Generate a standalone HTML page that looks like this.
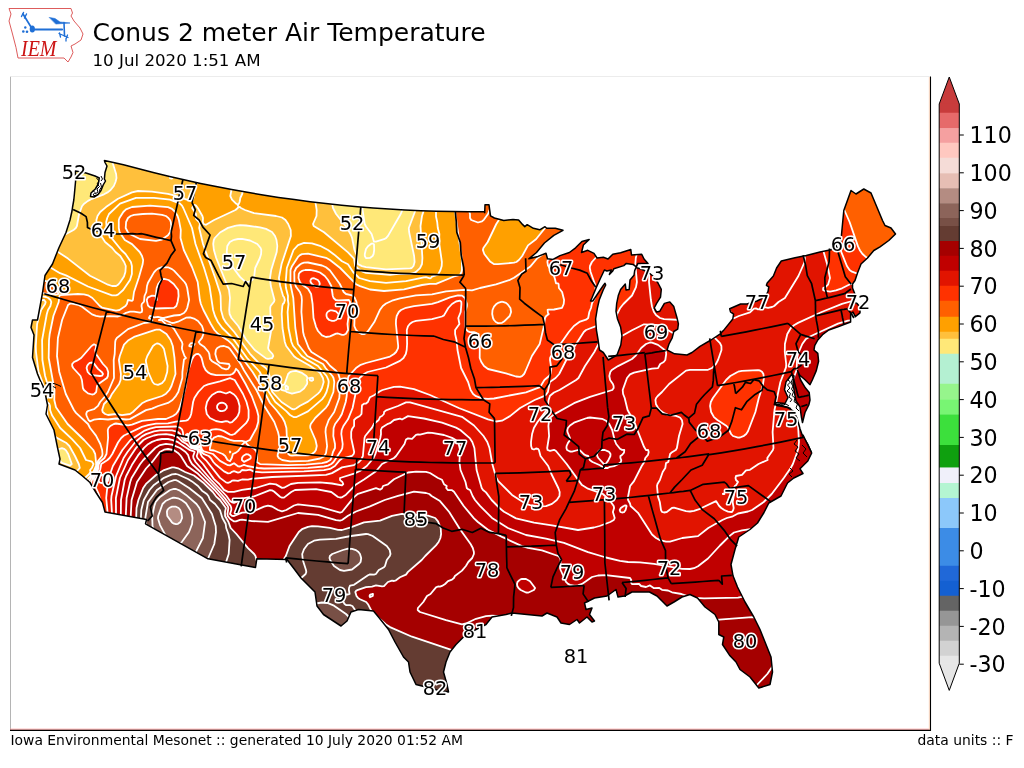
<!DOCTYPE html>
<html><head><meta charset="utf-8"><title>Conus 2 meter Air Temperature</title>
<style>
html,body{margin:0;padding:0;background:#fff;}
body{width:1024px;height:768px;position:relative;overflow:hidden;font-family:"DejaVu Sans","Liberation Sans",sans-serif;color:#000;}
</style></head><body>
<svg width="1024" height="768" viewBox="0 0 1024 768" style="position:absolute;left:0;top:0" font-family="DejaVu Sans, Liberation Sans, sans-serif">
<defs><clipPath id="us"><path d="M104.4,160.6L123.5,164.7L138.8,168.8L154.2,172.7L169.6,176.4L185.1,180L200.6,183.4L216.1,186.5L231.7,189.5L247.3,192.3L263,194.9L278.6,197.4L294.3,199.6L310.1,201.7L325.8,203.5L341.6,205.2L357.4,206.7L373.2,207.9L389,209L404.9,210L420.7,210.7L436.5,211.2L452.4,211.5L468.3,211.7L484.1,211.6L484.7,212.7L485,204.8L489,204.8L490.5,215.8L494.4,218L503.8,220.5L513,219.4L518.6,220L522.5,224.4L524.8,226.7L527.2,224.7L533.4,228.3L539.7,229.8L545,226.7L546.7,228.3L555.3,228.3L563,230.3L553.8,235.3L544.4,243L536.5,252.5L528.8,258.8L538,256.4L546,253.3L547.5,258.8L553,259.5L560,255.6L569.4,252.5L575.6,247.8L581.9,241.5L589.2,239.5L583.4,245L581.5,252.5L587.8,250.3L594,253.4L597,258L603.4,257.3L608,259L612.8,254.2L620.6,252.7L630.8,249.5L631.5,255L641.7,254.2L644,259L648,263.6L637.8,263.6L636.3,266.9L633,264.4L626.3,263.4L623.8,265.6L613.8,268.8L612.5,271.3L609.4,274.4L611.3,270L606.9,271L604.4,270L600.6,278L596.3,287.5L594,293L591.9,298L590.5,301L592.8,301L596.2,296L600.2,290L603.6,285L605,283.3L605.7,285L603.2,290L600.8,296L599.2,300L597.4,308L595.6,319L596.4,330L598,339.4L599.5,350L603.3,352.5L608.3,360L617,355L620.8,345L622,336L620.6,327L617.5,319L616,311.3L616.7,303.4L618.3,295.6L620.6,289.4L625.3,284L626,290L629.2,289.4L630,280L634,275.3L634.7,270.6L636,267.5L641,269L648,272L654,277L658,283L661.3,289.4L660.5,297.2L656.6,303.4L654.2,308L656.6,312L659.7,311.3L664.4,303.4L669.8,301.9L673.8,306.6L676.9,317.5L678.4,323.8L677.7,329.2L673.8,331.5L672.2,337.8L669,344L667,350L674.5,353.8L687,355L692,352.5L700,346.3L711,340L720.3,333.8L723.4,330.6L732.8,319L733.6,314.2L730.5,311.9L729.7,308.8L740.6,304L746.9,304L757,301L765,297L768,291.6L768.8,286.9L766.4,285.3L767.2,283L773.4,276L776.6,268L781.3,261L795,257.8L806.3,255.6L820,252L831,249.8L836,247L840,250.5L843.8,210.5L851,190.5L856,194L863.8,189L871,193L882.5,220.5L885,225.5L891,228L895.5,234L888.8,240.5L880,246.8L873.8,250.5L867.5,258L861,264L857.5,273L855,280.5L852.5,284L852.5,288L854.5,293L856,298L853,302L857,303.4L860,307L860,312.8L855.3,316.7L853,312L850.6,314L850.6,322L838,326.9L828.8,330L822.5,334.7L817.8,340L814.7,345.6L814,350L817.8,353.4L818.6,361.3L816.3,370.6L812.3,380L810,384.7L805.3,380L799.8,375.3L797.5,370.6L800.6,380L805.3,387.8L809.2,392.5L810,400L808.8,405L805,412.5L802.5,422.5L801.4,417L800,406.9L796,401L794.3,391.3L793,383.4L794,376L791.4,374.8L786,381.9L784.5,389.7L788,397.5L785,403.5L775,402.5L776.6,405.5L787.5,407.2L793.8,411.6L797,418L800,428.8L803,437.3L803,435L811.7,453L807.8,461L800,468.8L803,473.5L793.8,478L787.5,483L781,496L768.8,503L764,512.5L757.5,523L750,529.5L738.8,537L735,549.5L731,564.5L733,575.8L737.5,587L745,602L753.8,617L760,629.5L766,644.5L771,657L772.5,672L770,684.5L758.8,688L756,684.5L750,677L740,669.5L736,662L730,655.8L722.5,644.5L723.8,637L718.8,634.5L718.8,622L715,614.5L705,607L697.5,598L690,594.5L682,597L674,602L667,606L657,596L649.5,592L632,592L624.5,596L618,597L616,589.5L607,596L594.5,598L584.5,603L586,609.5L592,608L589.5,614.5L594.5,621L592,622L587,617L579.5,623L577,619.5L569.5,624.5L561,623L557,617L547,613L542,616L527,614.5L512,613L506,614.5L492,617L486,624.5L475,630L463.5,637L456,644.5L450,652L446,662L443.5,672L447,684.5L448.5,692L437,690L426,687L416,684.5L410,672L408.5,662L403.5,657L395,642L388.5,629.5L378.5,617L373.5,611L358.5,609.5L351,612L347,621L341,626L323.5,614.5L317,606L315,592L301,578L293.5,568L287,559.5L256.8,558.8L255.5,567.5L241.8,565L208,558.8L145.5,523.8L146.5,519.5L105,512L102.5,502.5L96,492.5L90,482.5L82.5,476L75,470L59,464L60,459L57.5,447.5L54,430L46,414L47.5,405L45,392.5L43,386L40,380L37.5,374L32.5,357.5L34,335L31,327.5L32.5,320L37.5,320L42.5,293L45,275.5L52.5,264L58.8,248L66,232.5L70,220L72,211L72.5,207.5L73.8,200L74.4,194L75,187.5L75.6,181L75.5,171L86,173L95,176L99.3,178L98.3,184L95.3,189L91,193L90.5,196.5L94,197L98,194.5L101,190.5L103.2,185L105.5,181L104.4,179L105,172.5L107,166L105,162.5Z"/></clipPath></defs>
<g clip-path="url(#us)">
<path fill="#b4f0d2" stroke="#b4f0d2" stroke-width="0.6" fill-rule="evenodd" d="M16,370L16,369.4L29.9,390L32,395.6L35.3,408L34.1,416L24.5,450L21.1,466L19.7,480L18.3,514L16,531.9Z"/>
<path fill="#ffe878" stroke="#ffe878" stroke-width="0.6" fill-rule="evenodd" d="M16,140L121,140L115.7,150L113.1,160L113.4,166L116.4,176L116.2,180L114.7,184L112.4,188L108,192.1L104,194.3L92,198.8L84,203.8L82,206.3L79.1,214L77.3,224L76,227.7L74,229.7L66.1,234L62,234.2L44,229.9L34,228.7L24,229.8L16,232.8ZM339.6,140L400.9,140L406,150.1L411.3,164L414.9,178L416.6,190L417,200L416.3,208L408.8,228L409.1,232L414.6,260L414.3,264L412,267.9L410,268.4L386,269.4L366,267.1L362,266.1L357.9,264L357.3,262L357,256L354.5,250L352.1,238L350.5,234L346,226.5L336,213.8L333.8,210L332.5,206L332.3,196L334.5,170L336.6,154ZM169.9,176L172,175.6L172.4,178L172,178.5L170,178.2ZM234.1,226L240,225.2L244,225.3L260,227.3L266,228.9L272,232L275,236L276.5,240L277.3,246L276.7,252L271.2,270L270,278L270.8,286L274.5,300L274,301.8L270.6,306L270.2,308L270.9,332L268.1,348L268.8,350L272.5,354L273.3,356L272,358.2L268,358.8L266,358.4L254.7,350L246,339.5L238.2,326L231.5,318L229.6,314L229.2,310L230,298L229,290L216.2,258L213.9,250L213.2,244L213.8,240L214.8,238L218.2,234L226,228.8ZM16,310L16,308.3L19.4,312L21.5,316L23,328L25.4,340L26.2,354L27,358L33.4,374L40,386.5L41.4,392L40.9,396L41.1,400L44.9,406L43.7,418L43.8,432L44.4,438L46.9,452L45.4,460L44.8,466L46.5,486L46.8,498L46.2,512L44.3,526L41.8,538L38.1,552L16,626L16,531.9L18.4,512L20.2,474L23,456L34,416.4L35.3,408L32,395.6L29.9,390L16,369.4ZM290.4,372L294,370.9L298,371.2L304.1,374L306.4,376L307.5,378L306.8,380L307.3,382L307,384L304.5,388L300,391.6L294,393.4L290,393.4L286.6,392L286,391.1L282,390.2L280,388L281,386L282,385.2L284,384.7L284.6,384L288,374.2ZM286,385.5L285.3,386L286,389.2L288,389.3L288,386.9ZM309.2,378L312,377.6L313,378L313.2,380L312,380.9L310,380.3ZM57,450L60,448.4L62,448.2L64,448.8L66,450.4L68.2,454L71.8,464L70,465.6L62,462.9L60,461.4L55.3,454L55.4,452Z"/>
<path fill="#ffc03c" stroke="#ffc03c" stroke-width="0.6" fill-rule="evenodd" d="M119.7,142L121,140L253.6,140L244,145.9L230,157.4L214,164.9L208,168.9L204,172.6L199.7,178L195.2,186L193.9,190L193.5,198L192,201.3L174,195.4L168,193.9L152,191.6L138,191L132,192.4L118,198.7L106,207.1L100.2,212L97.5,216L96.4,220L96.8,226L98.6,232L105.1,242L112,247.7L115.5,252L120.3,256L124.1,262L125.8,266L125.4,272L124,276.4L120,282.5L118,284.8L116.1,286L112,286L108,284.7L90,275.8L68,258.6L58,251.9L52,249.6L40,247.5L34,247.7L30,248.4L26,249.6L22,251.7L16,257L16,232.8L24,229.8L34,228.7L44,229.9L62,234.2L66.1,234L74,229.7L76,227.7L77.3,224L79.1,214L82,206.3L84,203.8L92,198.8L106,193.3L110,190.5L112.4,188L114.7,184L116.5,178L116.1,174L113,164L113.4,158L115.7,150ZM170,175.9L169.9,178L172,178.5L172.4,178L172,175.6ZM283.3,140L339.6,140L336.3,156L334,174.5L332.2,198L332.2,204L333,208L336.1,214L346,226.5L350.5,234L352.1,238L354.5,250L357,256L357.3,262L358,264.1L362,266.1L366,267.1L386,269.4L410,268.4L411.7,268L413.5,266L414.6,262L414.1,256L409.1,232L408.8,228L416.3,208L417,198L416.5,188L414.5,176L411.3,164L406,150.1L400.9,140L429.7,140L429.7,170L428.9,188L426.6,202L422,216L420.9,222L420.5,230L422.3,262L421.3,266L418.3,270L415.9,272L412,273.6L396,274L390,274.8L384,274.6L366,272.9L362,271.3L356,267.1L354.6,264L354.5,260L352,256.2L346,250.5L324,232.2L313.7,226L313,224L316.5,216L316.7,210L313.5,190L309.1,174L304,161.9L298,152.4L292,145.9L288,142.7ZM233.9,184L236,182.4L238,182.3L240,183.4L242.5,188L242.7,192L242.2,194L240.3,198L239.6,202L238,205.5L237.1,204L236,203.6L232,199.6L230.3,196L231.8,188ZM193.1,206L194,204.6L196,205.6L197.8,208L202.4,216L203,218L202.8,222L203.6,224L206,224.8L214.1,220L235.5,210L237.8,208L238,207.1L240,207L240.9,208L245,210L254,213.2L276,216L282,217.5L285.5,220L288.2,224L290.7,230L290.9,236L281.6,264L278.9,278L280.2,286L283.1,296L284,297L284.9,300L284,303L282.9,304L282.3,306L281.7,314L282.5,328L284.8,342L286.2,346L294,356.2L296.3,358L310,365.7L320,372.7L322.9,378L323.7,382L321.9,388L320,391.5L318,393.6L308,401.6L300,405.7L296,408.5L294,409.3L292,409L281.5,402L272.3,392L270.8,388L269.7,376L267.4,370L265.7,368L258,362.2L250,353.8L234.2,332L226,322.7L223.2,318L221,310L220.6,296L219.8,292L203,244L199.2,228L199.9,224L199.2,222L195.7,218L196,214L192.2,208ZM236,225.6L228,227.9L220,232.5L214.8,238L213.8,240L213.2,244L213.9,250L216.2,258L229,290L230,298L229.2,310L229.6,314L231.5,318L238.2,326L246,339.5L254.7,350L266,358.4L268,358.8L272,358.2L273.3,356L272.5,354L268.8,350L268.1,348L270.9,332L270.2,308L270.6,306L274,301.8L274.5,300L270.8,286L270,278L271.2,270L276.7,252L277.3,246L276.5,240L275,236L272,232L266,228.9L260,227.3L246,225.5L240,225.2ZM292,371.4L290,372.2L288.1,374L284.6,384L284,384.7L282,385.2L281,386L280,388L282,390.2L286,391.1L286.6,392L292,393.7L300,391.6L304,388.5L307,384L307.3,382L306.8,380L307.5,378L306.4,376L302,372.9L296,370.8ZM310,377.8L309.2,378L310,380.3L312,380.9L313.2,380L313,378L312,377.6ZM16,292L16,290.6L21.2,296L28,299.7L32,300.7L36,301L44,299.9L45.7,302L45.1,304L41.1,310L37.1,324L35.8,346L36,352L38.6,372L45.4,390L45.4,392L43.6,398L43.7,400L44.6,402L46.8,404L47.5,406L47.2,412L47.6,416L50.7,428L52.8,434L56,437.4L66,442.7L69.4,446L75,456L78.8,464L79.8,468L76.1,472L74,475.3L66.9,484L63.2,492L61.4,500L58,522L55.4,534L31.2,616L23.5,646L16,678.5L16,626L39.3,548L42.8,534L45.3,520L46.5,508L46.8,494L44.8,466L45.4,460L46.9,452L44.4,438L43.8,432L43.7,418L44.9,406L41.1,400L40.9,396L41.4,392L40,386.5L33.4,374L27,358L26.2,354L25.4,340L23,328L21.9,318L20.6,314L16,308.3ZM58,449.3L55.4,452L55.3,454L58.9,460L62,462.9L70,465.6L71.8,464L68.2,454L66,450.4L64,448.8L62,448.2ZM285.3,386L286,385.5L288,386.9L288,389.3L286,389.2Z"/>
<path fill="#ffa000" stroke="#ffa000" stroke-width="0.6" fill-rule="evenodd" d="M249.7,142L253.6,140L283.3,140L288,142.7L292,145.9L298,152.4L304,161.9L308,170.9L311.6,182L314.7,196L316.9,212L316.5,216L313,224L313.7,226L324,232.2L348,252.4L354,258.7L355.2,266L358,268.7L362,271.3L366,272.9L390,274.8L396,274L410,273.8L414,273L416,271.9L420,268.2L422,264L422.4,258L420.5,226L422,216L426.6,202L428.7,190L429.7,172L429.7,140L499.6,140L492,144.2L484,149.6L478,154.6L472,160.7L466,168.5L462,175.1L458.7,182L456,189.7L454.3,198L454.2,206L462,260L461.9,270L461.5,272L460,274.8L454,276.5L436,283.8L430,283.8L422,285L404,289.3L384,291L370,289.5L360,286.1L356,284.2L340.2,268L330,260L326,257.8L308,253.7L302,254.1L300,255.1L298,256.9L292,266.2L290.5,270L290.4,284L293.3,298L295.3,328L297.9,344L307.3,356L323,364L325.6,368L332.4,376L333.5,378L334.3,382L333.4,392L328,404.8L326,407.6L315.2,418L310.8,424L310.2,426L310.3,428L315.5,440L316.8,446L315.9,450L314.6,452L312,454L308,455.4L298,455.2L292,455.6L290,455.3L288.3,454L288.6,448L286.9,438L286.4,428L284.6,422L282.5,418L276.3,410L270,403L261.2,386L252.6,372L232,344.1L228,340.4L218,333.8L214.4,330L210.8,324L203.4,310L200.9,304L199.9,300L197.7,282L192,267L183.8,250L180.5,238L180.8,230L178.9,220L177.6,216L175.2,212L172,208.8L168,207.1L150,205.6L132,207L128,208.2L124,211.2L120.6,216L118.8,220L118.8,228L119.5,232L124.8,240L132,244.1L139.7,252L142,256L143.2,260L142.7,264L138.7,278L134,292L132.9,300L132,300.8L128,300L126.9,304L125.5,306L119.5,310L116,310.6L102,307.6L99.8,306L92.4,298L88,295.3L84,294.4L78,294L60,295.2L59.4,296L58.7,302L54.6,312L52.9,318L49.2,338L48.6,356L54.5,390L54.3,400L55.6,406L56.3,408L67.6,424L84.1,440L93.3,450L95.2,454L96.2,464L95.9,466L92.4,474L88.6,478L84.8,484L81.8,492L80.8,500L80.3,516L78.9,526L76,537.3L63.1,580L54.6,614L45.9,658L38.4,706L16,706L16,678.5L17,674L24.5,642L31.8,614L55.4,534L58,522L62.7,494L64.7,488L66.9,484L74,475.3L76.1,472L79.8,468L78.8,464L75,456L69.4,446L66,442.7L56.9,438L54.2,436L52.8,434L51.3,430L47.6,416L47.2,412L47.5,406L46.8,404L44.6,402L43.7,400L43.6,398L45.4,392L45.4,390L38.6,372L35.9,350L37.1,324L41.1,310L45.1,304L45.7,302L44,299.9L36,301L32,300.7L28,299.7L21.2,296L16,290.6L16,257L22,251.7L26,249.6L30,248.4L34,247.7L40,247.5L52,249.6L58,251.9L68,258.6L90,275.8L108,284.7L112,286L116.1,286L118,284.8L120,282.5L124,276.4L125.4,272L125.8,266L124.1,262L120.3,256L115.5,252L112,247.7L105.1,242L98.6,232L96.8,226L96.4,220L97.5,216L100.2,212L106,207.1L118,198.7L132,192.4L138,191L152,191.6L168,193.9L174,195.4L192,201.3L193.5,198L193.9,190L195.2,186L199.7,178L204,172.6L208,168.9L214,164.9L230,157.4L243.9,146ZM38,281.8L37,284L37,286L38.8,290L40.9,292L44,293.4L52,294.5L56,294.7L58.6,294L56.8,290L55.1,288L48,282.2L44,280.3L42,280L40,280.4ZM194,204.6L192.2,208L196,214L196,218.8L199.2,222L199.9,224L199.2,228L203,244L215.2,278L220,292.8L220.6,296L221,310L223.2,318L226,322.7L234.2,332L250,353.8L258,362.2L265.7,368L267.4,370L269.7,376L270.8,388L272.3,392L281.5,402L292,409L294,409.3L296,408.5L300,405.7L308,401.6L318,393.6L320,391.5L321.9,388L323.7,382L322.9,378L320,372.7L310,365.7L296.3,358L294,356.2L286.2,346L284.8,342L282.5,328L281.7,314L282.3,306L282.9,304L284,303L284.9,300L284,297L283.1,296L280.2,286L278.9,278L281.6,264L290.9,236L290.7,230L288.2,224L285.5,220L282,217.5L276,216L254,213.2L245,210L240.9,208L240,207L238,207.1L237.8,208L235.5,210L214.1,220L206,224.8L203.6,224L202.8,222L203,218L202.4,216L197.8,208L196,205.6ZM234,183.8L231.8,188L230.3,196L232,199.6L236,203.6L237.1,204L238,205.5L239.6,202L240.3,198L242.2,194L242.7,192L242.5,188L240,183.4L238,182.3L236,182.4ZM530.8,190L536,188.9L540,189.6L544,192L548,197.2L550,202.2L551.1,210L550.3,218L548.3,224L536,239.3L528,245.4L522.2,256L518.9,260L516.4,262L514,262.7L498,264.2L493.8,264L490,261.4L484.3,254L482.9,250L483.4,248L487.7,242L496.3,224L500,218.3L520,197.5L526,192.6ZM154.6,330L158,329.4L160,329.7L166,333.6L169.5,338L172.3,344L174.5,358L175.5,374L174.5,378L170,389.1L167.9,392L164,395L146,401.2L142,403.3L132.9,412L130,414L122,415.1L116,414L108,415L105.1,414L102.7,412L102.2,410L104,404L109.9,398L112,393.9L119.1,384L120.6,380L120.9,374L118.9,360L119.8,356L124,344.6L128,340.6L134,336.9Z"/>
<path fill="#ff6000" stroke="#ff6000" stroke-width="0.6" fill-rule="evenodd" d="M495.8,142L499.6,140L643.8,140L634.1,152L626.4,164L619,178L603.8,210L599.1,218L593.5,226L582.6,238L568,250.6L564,252.9L556.3,256L554,257.7L547.8,260L547.4,262L548,265.6L550,268.7L551.5,270L554.7,278L556,283.3L558,283.3L558.6,284L558.9,288L562.1,292L564.1,300L564,302.8L562,307.8L554,309.5L548,309.6L547.6,310L548,313.1L548.8,314L546,316.2L545,318L543.5,328L539.7,344L530.9,358L524.1,374L522,376.1L520,376.9L518,377L506,373.3L488,369L484,366L481.3,362L479.7,358L479.8,342L478.6,336L476,332.9L474,332.2L470,332.1L468,331.3L466,329.2L465.5,328L465.3,312L466.9,306L466.9,304L465,298L462.8,296L460,295.3L456,295.6L450,297.3L434,303.4L428,304.6L412,306.5L405.5,308L401,310L398.8,312L397.5,314L396.2,318L395.9,324L398.2,346L398,348.4L396.1,352L394,354L390,356.6L366,363L360,365.2L356,368.1L348.7,376L348,378L346.7,396L345.7,402L341.9,414L339.6,418L335.1,424L333.6,428L333.3,436L335,444L335,448L333,452L331.4,458L330.3,460L328,461.5L324,462.8L308,464.6L288,465.2L262,464.2L259.7,464L256.8,462L257.2,454L256,450.8L254,448.7L248.9,446L246.8,444L246,442.3L244,442.9L242,445L240.5,448L238,451.1L236,452.6L232.9,454L231.8,458L230,461.2L227.5,460L225.2,456L222.7,454L214,450.5L209.9,450L209.9,448L212,440L214,437.7L218,436L222,436.5L230,439.8L234,440.8L242,440.8L246,441.8L249.9,440L256.5,428L258.2,422L258.4,416L256.9,410L251.7,396L242,377.7L238,370.8L236,368.8L234.6,372L232.5,374L230,374.9L218,375.3L212,374.4L208,372.4L205.6,370L203.6,366L201.6,358L200,355.2L198,353.8L196,354.2L193.8,356L192,359.3L187.8,372L185.3,388L183.3,396L179.6,408L178,411.4L176,414L173,416L166,419L158,419L142,420.9L130,425.1L126,425.3L120,423.8L116,423.5L113.9,424L110.3,426L108.5,428L107.8,430L108.1,438L106.5,454L104.4,458L99.8,462L98.8,464L97.9,470L96.8,472L93.2,476L91.4,482L91.5,490L96.2,512L96.3,520L94,531.4L83,574L76.4,608L70.6,652L65.8,706L38.4,706L45.9,658L54.6,614L63.1,580L76,537.3L78.9,526L80.3,516L80.8,500L81.8,492L84.8,484L88.6,478L92.4,474L95.9,466L96.2,464L95.2,454L93.3,450L84.1,440L67.6,424L56,407.3L54.3,400L54.5,390L48.7,358L49,340L49.7,334L53.4,316L58.7,302L59.4,296L60,295.2L78,294L84,294.4L88,295.3L92.4,298L99.8,306L102,307.6L116,310.6L119.5,310L125.5,306L126.9,304L128,300L132,300.8L132.9,300L134,292L138.7,278L142.7,264L143.2,260L142,256L139.7,252L132,244.1L124.8,240L119.5,232L118.8,228L118.8,220L119.5,218L123.3,212L126,209.4L132,207L150,205.6L168,207.1L172,208.8L175.2,212L177.6,216L178.9,220L180.8,230L180.5,238L183.8,250L192,267L197.7,282L199.9,300L200.9,304L203.4,310L210.8,324L214.4,330L218,333.8L228,340.4L232,344.1L252.6,372L261.2,386L270,403L276.3,410L282.5,418L284.6,422L286.4,428L286.9,438L288.6,448L288.3,454L290,455.3L292,455.6L298,455.2L308,455.4L312,454L314.6,452L315.9,450L316.8,446L315.5,440L310.3,428L310.2,426L310.8,424L315.2,418L326,407.6L328,404.8L333.4,392L334.3,382L333.5,378L332.4,376L325.6,368L323,364L307.3,356L297.9,344L295.3,328L293.3,298L290.4,284L290.5,270L292,266.2L298,256.9L300,255.1L302,254.1L308,253.7L326,257.8L330,260L340.2,268L356,284.2L360,286.1L370,289.5L384,291L404,289.3L422,285L430,283.8L436,283.8L454,276.5L460,274.8L461.5,272L461.9,270L462,260L454.2,206L454.3,198L455.9,190L458,183.7L462,175.1L470,163.1L476,156.5L482,151.2L488,146.8ZM532,189.5L528,191.3L522,195.7L500,218.3L496.3,224L487.7,242L483.4,248L482.9,250L484.3,254L490,261.4L493.8,264L498,264.2L514,262.7L516.4,262L518.9,260L522.2,256L528,245.4L536,239.3L548.3,224L550.3,218L551.1,210L550.4,204L548.4,198L546,194.1L542,190.5L538,189ZM230,451.5L229.3,452L230,452.5L230.4,452ZM92,345.4L81.1,358L78,360.1L74,362L72.2,364L72.2,366L73.2,368L80.5,376L81.9,380L82.9,388L83.9,390L88,393.4L92,394.5L94,394.1L96.2,392L97,386L98.4,384L106.9,378L107.9,376L108.2,372L106.8,368L103,364L96,354L95.2,350L96,347.7L96,345.3L94,344.3ZM162,279.4L158.2,284L156.7,288L156,294L156,296L156.9,298L156.8,300L155.7,300L155.9,296L152,295.6L150,296.1L148,297.3L146.7,300L147.4,304L148,305.5L150,307.3L154,308.3L174,307.9L176.3,306L177.6,302L178.6,296L178.2,290L174,284.3L170,280.9L166,279L164,278.8ZM306,269.8L302,270.9L300,272.3L298.8,274L298.5,278L300,282.3L302,284.5L308,288.7L311.1,294L312.6,304L313.5,318L316,326.8L318,331L322,335.4L326,337L330,336.4L336,333.6L338,333.5L342,334.8L344,334.8L346,333.7L348.1,330L347.5,324L350,301.8L348.9,300L348,299.7L340,300.3L335.7,300L333.6,298L332.8,296L331.3,286L328,280L324.8,276L322,273.7L318,271.7L312,270.1ZM156,329.6L134,336.9L128,340.6L124,344.6L119.8,356L118.9,360L120.9,374L120.6,380L119.1,384L112,393.9L109.9,398L104,404L102.2,410L102.7,412L105.1,414L108,415L116,414L122,415.1L130,414L132.9,412L142,403.3L146,401.2L162.1,396L166,393.7L169.4,390L171.5,386L175.5,374L174.5,358L172.8,346L170.6,340L166.5,334L160,329.7ZM802.2,140L914,140L914,257.7L896,261.2L882,261.6L876,260.8L870,259.2L866,257.1L862.5,254L860,250.5L858,246.4L849.6,222L835.5,190L828.6,176L822.8,166L816,156L809.7,148ZM37.9,282L40,280.4L42,280L46,281.1L50,283.7L55.1,288L56.8,290L58.6,294L56,294.7L52,294.5L44,293.4L40.9,292L37.6,288L37,284ZM195.4,446L196,444.8L197,446Z"/>
<path fill="#ff3200" stroke="#ff3200" stroke-width="0.6" fill-rule="evenodd" d="M643.8,140L802.2,140L809.7,148L816,156L822.8,166L828.6,176L835.5,190L849.6,222L858,246.4L860,250.5L862.5,254L866,257.1L870,259.2L876,260.8L882,261.6L896,261.2L914,257.7L914,296.5L890,292.4L854,283.6L850,284.2L842,288.3L836,290.4L830,291.6L824,290.6L823.1,290L823.2,288L826,286.6L828,284.7L830,278L827.1,264L823.1,250L818.7,240L812,228.7L804,217.6L794,206.2L784,196.9L774,189.3L764,183.4L754,178.9L744,175.8L734,174.1L722,173.7L712,174.8L704,176.7L696,179.5L688,183.4L680,188.3L672,194.6L664.2,202L658,209.1L652,217.4L646,227.5L642.1,236L639.3,244L635.8,258L635.3,264L636.9,282L636,287.2L632,295.5L623.4,304L620,308.3L617.1,314L616.6,318L615.6,320L612,321.7L600,324.6L586,330L583.8,332L574,347.3L566.3,360L559.2,374L555.6,378L549.8,382L547.9,392L546,394.8L544,396.1L534.6,400L520.1,408L510,416.1L502,420.7L496,421.5L488,419.4L458.8,408L430,395L414,389.1L400,386.7L394,386.8L382.5,390L380,391.2L374,395.3L370,397.2L367.9,402L366,403.5L364,403.7L362,405.2L361.5,414L359.8,416L356,418.1L354.1,420L354.1,426L352,429L351.2,432L351.2,438L354.2,452L353.7,454L352,455.8L342,458.5L340,459.9L334.9,466L330,468.9L324,470.2L304,471.4L262,472.4L254,471.6L250,469.6L246,470.4L242,470L240,472.2L238,472.6L234,471.2L232,471.8L230,473.2L228,473.4L224,471.4L216,464.8L213.3,462L210.8,458L208.7,456L204,454.2L202,452.5L200,447.7L194,447L192.7,446L192.8,444L196,440L196.6,438L196,435.3L194,434.4L192,434.9L188,438.6L186,438.9L184.6,438L183.3,436L182.9,432L182,429.4L180,427.6L176,426.5L156,427.2L150,428.6L144,430.9L130.5,440L122.4,450L112.9,466L110,474.2L108.4,476L108,480.8L106.8,482L107.2,488L106.2,498L108.1,518L98.8,574L96.6,594L95.1,614L93.7,654L93.5,706L65.8,706L70.6,652L76.4,608L83,574L94,531.4L96.3,520L96.2,512L91.5,490L91.4,482L93.2,476L96.8,472L97.9,470L98.8,464L99.8,462L104.4,458L106.5,454L108.1,438L107.8,430L108.5,428L110.3,426L113.9,424L116,423.5L128,425.4L132,424.6L142,420.9L158,419L166,419L173,416L176,414L178,411.4L179.6,408L183.3,396L185.3,388L187.8,372L192,359.3L194,355.7L196,354.2L198,353.8L200,355.2L201.6,358L203.6,366L205.6,370L208,372.4L210.8,374L216,375.2L230,374.9L232.5,374L234.6,372L236,368.8L238,370.8L245.6,384L252,396.7L256.9,410L258.4,416L258.2,422L256.5,428L249.9,440L246,441.8L242,440.8L234,440.8L230,439.8L222,436.5L218,436L214,437.7L212,440L209.9,448L209.9,450L214,450.5L222.7,454L225.2,456L227.5,460L230,461.2L231.8,458L232.9,454L236,452.6L238,451.1L240.5,448L242,445L244,442.9L246,442.3L246.8,444L248.9,446L254,448.7L256,450.8L257.2,454L256.8,462L260,464.1L288,465.2L306,464.7L322,463.1L326.9,462L330.3,460L331.4,458L333,452L335,448L335,444L333.3,436L333.6,428L335.1,424L339.6,418L341.9,414L345.7,402L346.7,396L348,378L348.7,376L356,368.1L360,365.2L366,363L390,356.6L394,354L396.1,352L398,348.4L398.2,346L395.9,324L396,320L396.7,316L398.8,312L401,310L406,307.8L414,306.2L432,303.9L438,302.1L450,297.3L458,295.3L462,295.6L465,298L466.9,304L466.9,306L465.3,312L465.5,328L466,329.2L468,331.3L470,332.1L474,332.2L476,332.9L478.6,336L479.8,342L479.7,358L481.3,362L484,366L488,369L506,373.3L516,376.5L520,376.9L522,376.1L524.1,374L525.1,372L531.9,356L539.7,344L543.5,328L545,318L546,316.2L548.8,314L548,313.1L547.6,310L548,309.6L554,309.5L562,307.8L563.7,304L564.1,300L562.1,292L558.9,288L558.6,284L558,283.3L556,283.3L554.7,278L551.5,270L550,268.7L548,265.6L547.4,262L547.8,260L554,257.7L556.3,256L564,252.9L568,250.6L582.6,238L593.5,226L599.1,218L603.8,210L619,178L626.4,164L634.1,152ZM196,444.8L195.4,446L197,446ZM100,476L97.7,478L98,480.7L100,482.6L102,483L105.3,482L107.4,478L107,476L104,474.4ZM218,391.7L216,392.3L212,395.1L209.4,398L207,402L205.7,408L206.8,414L209.9,418L216,421L220,421.9L222,422L226,421.2L228,421.4L230,422.7L232,422.2L236.2,418L238,415.4L239.3,412L239.6,406L238,400L236,396.6L234,394.5L230,391.9L226,393.5L222,392.1ZM304.9,270L310,269.8L316,271.1L320,272.5L324.8,276L328,280L331.3,286L332.8,296L333.6,298L335.7,300L338,300.4L348.9,300L350.1,302L348.7,310L348.6,316L347.5,324L348.1,330L346,333.7L344,334.8L342,334.8L338,333.5L336,333.6L330,336.4L326,337L322,335.4L318,331L316,326.8L313.5,318L312.6,304L311.1,294L308,288.7L302,284.5L300,282.3L298.5,278L298.8,274L300,272.3L302,270.9ZM161.3,280L164,278.8L168.6,280L173.7,284L178.2,290L178.6,296L177.6,302L176.3,306L174,307.9L156,308.5L150,307.3L148,305.5L146.7,300L148,297.3L152,295.6L155.9,296L155.7,300L156.8,300L156.9,298L156,296L156,294L156.7,288L158.2,284ZM91.5,346L94,344.3L96,345.3L96,347.7L95.2,350L96,354L103,364L106.8,368L108.2,372L107.9,376L106.9,378L98.4,384L97,386L96.2,392L94,394.1L92,394.5L88,393.4L83.9,390L82.9,388L81.9,380L80.5,376L73.2,368L72.2,366L72.2,364L74,362L78,360.1L81.1,358ZM737.4,372L742,370.8L758,370.1L760,370.5L762,371.7L763.4,374L763.9,378L762.7,386L758.8,398L755.4,412L748,431.2L746.2,434L744,435.8L740,437.5L738,437.7L733,436L731.1,434L728.3,428L726.6,426L717.4,420L714,417.1L711.1,412L710.1,406L710.8,402L712.9,398L726,380.1L730,376.2ZM229.3,452L230,451.5L230.4,452L230,452.5Z"/>
<path fill="#e11400" stroke="#e11400" stroke-width="0.6" fill-rule="evenodd" d="M717.8,174L728,173.6L740,175L750,177.5L760,181.4L770,186.8L780,193.7L790,202.3L798,210.5L806,220.2L814,231.8L819.7,242L823.8,252L827.6,266L830,278L828,284.7L826,286.6L823.2,288L823.1,290L824,290.6L830,291.6L836,290.4L842,288.3L850,284.2L854,283.6L890,292.4L914,296.5L914,337.3L874,323.1L864,320.7L854,320L844,321.6L834,325.3L808,337.6L804,341.2L800.4,348L798,354L797.1,358L796.6,370L792.2,382L792,384L794.5,396L798.6,432L799,442L798,450L792.9,464L790.7,468L773.4,492L763.7,502L752,510.1L748,511.5L738,513.5L732,516.7L726.8,518L722.4,520L708.3,528L698,536.1L682.3,538L672,541.2L668,541.8L664,541.4L660,540.1L653.5,536L650,532L645.4,524L638,512.8L630.6,506L630,503.5L628.1,500L627.8,498L630.1,486L634,481.1L641.7,466L644.3,462L645.3,458L648,454.9L648.7,452L648.1,450L646,450.1L644,446.8L634.2,422L627.6,410L624.7,398L623.1,394L622.7,390L627,378L630,374.4L634,372.6L652,368.6L658,368.1L660.2,364L663.7,362L665.3,360L666.2,354L666,352L664.7,350L658,344.9L652,342.6L650,342.5L646,344L641.2,348L636,355.3L632,359L618,366.1L611.8,370L610.3,372L609.3,376L610.1,380L612.9,384L613.6,386L613.7,388L612.3,390L590,396.9L574,403.2L554,414.4L550,417.7L549.1,420L548.4,426L549.1,436L547.2,448L547.6,450L550,450.8L554,449.8L556,451L566.7,464L582,485.1L588,488.7L602.9,494L609.4,500L613.7,506L614.1,508L612.9,512L614.7,518L613.8,520L610.3,522L599.6,526L594,527.5L578,530L552,525.3L534,522.7L516,518.4L504,511.7L500,508.5L491.6,500L486,492.4L483,490L481.7,488L476.6,470L474.4,448L472.3,442L470,438.4L460.3,430L456,427.6L442,422.6L426,419L408,416.1L402,419.5L400,418.6L394,420L390,423.2L388,423.8L382,427.5L380.9,430L381,434L380.3,438L375.4,454L373.6,458L366.8,466L360,471L354,473.6L340,478L340,480.1L342.4,482L343.3,484L342,485.3L332,483.5L320,482.3L298,482.8L290.9,484L284,487.7L282,487.9L276,484.4L270,483.7L256,487.9L242,489.9L232,492.1L228,491.9L224,489.9L219.3,484L213.1,478L203,464L197.5,458L196.7,456L198,452L197.5,450L190.7,448L186.6,444L182,441.4L178,437.3L174,435.6L166,434.2L160,434.4L154,435.5L146,438.6L142,441.3L136,448.1L128,460L119.9,478L115.9,498L116.1,526L113.5,568L113.6,596L115.8,632L122.8,706L93.5,706L93.7,654L95.1,614L96.6,594L98.8,574L108.1,518L106.2,498L107.2,488L106.8,482L108,480.8L108.4,476L110,474.2L112.9,466L119.8,454L122.4,450L132,438.7L144,430.9L152,428L158,427.1L172,426.3L178,426.8L180,427.6L182,429.4L182.9,432L183.3,436L184.6,438L186,438.9L188,438.6L192,434.9L194,434.4L196,435.3L196.6,438L196,440L192.8,444L192.7,446L194,447L200,447.7L202,452.5L204,454.2L208.7,456L210,457.1L215.1,464L226,472.7L228,473.4L230,473.2L232,471.8L234,471.2L238,472.6L240,472.2L242,470L246,470.4L250,469.6L254,471.6L262,472.4L306,471.3L324,470.2L330,468.9L334.9,466L340,459.9L342,458.5L352,455.8L353.7,454L354.2,452L351.2,438L351.2,432L352,429L354.1,426L354.1,420L356,418.1L359.8,416L361.5,414L362,405.2L364,403.7L366,403.5L367.9,402L370,397.2L374,395.3L380,391.2L382.5,390L394,386.8L400,386.7L414,389.1L430,395L458.8,408L488,419.4L496,421.5L502,420.7L510,416.1L520.1,408L534.6,400L544,396.1L546,394.8L547.9,392L549.8,382L555.6,378L559.2,374L566.3,360L574,347.3L583.8,332L586,330L600,324.6L612,321.7L615.6,320L616.6,318L617.9,312L620.2,308L623.4,304L631.6,296L634.9,290L636.4,286L636.9,282L635.3,264L635.4,260L639.9,242L643.8,232L648,223.8L654,214.5L662,204.4L674,192.9L680.5,188L688,183.4L694,180.4L702,177.3L710,175.2ZM738,371.7L730.3,376L726.1,380L712.9,398L710.8,402L710.1,406L711.1,412L714,417.1L717.4,420L726.6,426L728.3,428L731.1,434L733,436L738,437.7L740,437.5L744,435.8L746.2,434L748,431.2L755.4,412L758.8,398L762.7,386L763.9,378L763.4,374L762,371.7L760,370.5L758,370.1L742,370.8ZM217.1,392L220,391.7L226,393.5L230,391.9L234,394.5L236,396.6L238,400L239.6,406L239.3,412L238,415.4L236.2,418L232,422.2L230,422.7L228,421.4L226,421.2L222,422L220,421.9L216,421L209.9,418L206.8,414L205.7,408L207,402L209.4,398L212,395.1ZM100,476L104,474.4L107,476L107.4,478L105.3,482L102,483L100,482.6L98,480.7L97.7,478ZM623.5,506L626,505.3L626.6,506L625.6,510L624,512.2L622,512.5L620.4,512L619.7,510L620.8,508Z"/>
<path fill="#c00000" stroke="#c00000" stroke-width="0.6" fill-rule="evenodd" d="M842.7,322L848,320.7L854,320L860,320.2L868,321.5L883,326L914,337.3L914,424.1L902,422.1L894,422.5L888,424.3L882,428.5L878,433.2L874,439.8L861.1,468L853.6,482L844.6,496L836,507.1L822.1,522L792.9,550L763.9,582L757.1,588L751.6,592L744.4,596L740,597.4L704,598.3L692,597.6L681.5,594L672,592.3L668,590.5L662,589.8L659.3,588L654,588.2L650,585.4L646,587L641.1,586L639.1,584L632,584.1L630.7,582L631.3,580L630,578L606,575.1L598,575.5L592,577L582,583.9L578,585.4L574,585.7L570,584.9L568,583.9L566,581.8L560.6,570L560,568L560.7,560L560.1,558L558.2,556L542,550.3L528,547.8L522,546.1L502,536.9L488,529.7L477.9,522L474,518.3L463.7,506L454,491.8L452,490.2L447.8,490L446.2,488L446.7,486L444,484.2L442,479.8L438,478L430,473L426,471.8L416,471.6L408,472.5L394,479.3L388,484.3L383,486L382,488.5L380,489.6L376,488.1L358,493.8L354,497.1L342,512L340,512.7L320,506.9L298,504.4L294,505.5L286.3,510L282,511.4L278,510L272,506.5L268,505.6L264,506.7L251.7,512L242,512.7L234.1,516L232,515.9L230,514L231.3,510L231.3,508L230.6,506L224.7,498L215.9,488L200,471.5L192,464L189.7,460L188,454.8L185.6,452L180,448L172,444.6L164,444L158.3,446L154,449.2L143.3,460L140,464.3L131.6,478L130.2,482L126.3,500L125.6,522L126.3,558L127.6,572L129.6,586L134,607.9L147.5,664L156.1,706L122.8,706L115.8,632L113.6,596L113.5,568L116.1,526L115.9,498L119.9,478L127,462L136,448.1L141.3,442L144,439.6L154,435.5L162,434.3L170,434.5L178,437.3L182,441.4L186.6,444L190.7,448L197.5,450L198,452L196.7,456L197.5,458L203,464L214,479.1L219.3,484L224,489.9L228,491.9L234,491.8L242,489.9L255.6,488L270,483.7L276,484.4L282,487.9L284,487.7L290.9,484L298,482.8L320,482.3L332,483.5L342,485.3L343.3,484L342.4,482L340,480.1L340,478L354,473.6L360,471L366.8,466L373.6,458L375.4,454L380.3,438L381,434L380.9,430L382,427.5L388,423.8L390,423.2L394,420L400,418.6L402,419.5L408,416.1L424,418.5L442,422.6L456,427.6L460.3,430L470,438.4L472.3,442L474.4,448L476.6,470L481.7,488L483,490L486,492.4L491.6,500L500,508.5L504,511.7L516,518.4L534,522.7L552,525.3L578,530L594,527.5L599.6,526L610.3,522L613.8,520L614.7,518L612.9,512L614.1,508L613.7,506L609.4,500L602.9,494L588,488.7L582,485.1L566.7,464L556,451L554,449.8L550,450.8L547.6,450L547.2,448L549.1,436L548.4,426L549.1,420L550,417.7L554,414.4L574,403.2L590,396.9L612.3,390L613.7,388L613.6,386L612.9,384L610.1,380L609.3,376L610.3,372L611.8,370L618,366.1L632,359L636,355.3L641.2,348L646,344L650,342.5L652,342.6L658,344.9L664.7,350L666,352L666.2,354L665.3,360L663.7,362L660.2,364L658,368.1L652,368.6L634,372.6L630,374.4L627,378L622.7,390L623.1,394L624.7,398L627.6,410L634.2,422L644,446.8L646,450.1L648.1,450L648.7,452L648,454.9L645.3,458L644.3,462L641.7,466L634,481.1L630.1,486L627.8,498L628.1,500L630,503.5L630.6,506L638,512.8L652,534.5L656,538L660,540.1L666,541.7L670,541.7L682.3,538L698,536.1L708.3,528L722.4,520L726.8,518L732,516.7L738,513.5L748,511.5L752.1,510L763.7,502L773.4,492L783.8,478L791.9,466L797.3,452L798.4,448L799.1,440L798.6,432L794.5,396L792,384L792.2,382L796.6,370L797.1,358L799.5,350L803.5,342L807.3,338L832,326.2ZM624,505.7L620.8,508L619.7,510L620.4,512L622,512.5L624,512.2L625.6,510L626.6,506L626,505.3ZM519.3,580L522,578.9L524,578.7L528.3,580L530.7,582L535.1,588L533.9,590L528,592.7L526,592.5L520.7,590L518.5,588L517.3,586L517,584L517.5,582Z"/>
<path fill="#a50000" stroke="#a50000" stroke-width="0.6" fill-rule="evenodd" d="M888.7,424L894,422.5L900,422L906,422.5L914,424.1L914,706L567.9,706L512.7,674L497.1,666L484,660.9L412,636.7L390,627.1L386,624.4L372,612L368,604.2L366.2,602L360,599.2L358,597.9L356.5,596L355.3,592L356,590.9L358,589.8L366,587.2L372,586.6L376,585.4L382,586.4L384,586.2L387.9,582L392,580.6L394,581L396,580.3L400,577.3L406,574.6L408,571.9L421.7,560L425.2,556L436,545.4L438.6,542L440.4,538L441.1,534L440.7,528L438,521.4L435.2,518L428,515.7L402,513.9L392,515.8L380,520.7L364,522.4L350,527.7L342,530L338,529.8L330,527.8L318,526.3L312,526.2L308,526.8L302,529.2L298.8,532L289.5,546L285.8,556L282,562L278,565.2L274,566.9L270,567.6L266,567.3L262,565.9L258,562.5L256.5,560L255.5,556L254.2,554L248,548.1L236.4,534L230.7,528L228.5,522L225.1,516L225,512L225.9,508L220,500L216,496.3L212.8,492L208.3,488L204.8,484L194.8,476L185.1,472L180,469.1L174,467.4L172,467.4L166,469.2L156,475L146,483.9L143.2,488L138.4,500L136.5,508L135.8,526L136.6,540L139.9,560L145.3,578L154,597.3L172.5,630L180.1,646L188,668L198.6,706L156.1,706L147.5,664L134,607.9L129.2,584L127.4,570L126.2,556L125.6,520L126.6,498L130.2,482L131.6,478L140,464.3L143.3,460L155.3,448L160,445.1L166,443.9L172,444.6L180,448L185.6,452L188,454.8L189.7,460L192,464L200,471.5L215.9,488L224.7,498L230.6,506L231.3,508L231.3,510L230,514L232,515.9L234.1,516L242,512.7L251.7,512L264,506.7L268,505.6L272,506.5L278,510L282,511.4L286.3,510L294,505.5L298,504.4L320,506.9L340,512.7L342,512L354,497.1L358,493.8L376,488.1L380,489.6L382,488.5L383,486L388,484.3L394,479.3L408,472.5L416,471.6L426,471.8L430,473L438,478L442,479.8L444,484.2L446.7,486L446.2,488L447.8,490L452,490.2L454,491.8L463.7,506L474,518.3L477.9,522L488,529.7L502,536.9L522,546.1L528,547.8L542,550.3L558.2,556L560.1,558L560.7,560L560,568L560.6,570L566,581.8L568,583.9L570,584.9L574,585.7L578,585.4L582,583.9L592,577L598,575.5L606,575.1L630,578L631.3,580L630.7,582L632,584.1L639.1,584L641.1,586L646,587L650,585.4L654,588.2L659.3,588L662,589.8L668,590.5L672,592.3L681.5,594L692,597.6L704,598.3L738,597.6L742,596.9L748.4,594L754.5,590L761.8,584L769.7,576L794,548.8L822,522.1L833.5,510L844.6,496L854.8,480L861.1,468L872,443.9L876.1,436L882,428.5L885.1,426ZM372,593.9L370,594.9L369.5,596L370,597.2L372.8,596L373,594ZM520,579.6L517.5,582L517,584L517.3,586L518.5,588L520.7,590L526,592.5L528,592.7L533.9,590L535.1,588L530,581.2L526,579L522,578.9Z"/>
<path fill="#643c32" stroke="#643c32" stroke-width="0.6" fill-rule="evenodd" d="M169.9,468L174,467.4L178,468.3L185.1,472L194,475.5L204,483.3L212.8,492L216,496.3L220,500L225.9,508L225,512L225.1,516L228.5,522L230.7,528L236.4,534L248,548.1L254.2,554L255.5,556L256.5,560L258,562.5L262,565.9L266,567.3L270,567.6L274,566.9L278,565.2L282,562L285.8,556L289.5,546L298.8,532L302,529.2L308,526.8L312,526.2L318,526.3L330,527.8L338,529.8L342,530L350,527.7L364,522.4L380,520.7L392,515.8L402,513.9L428,515.7L435.2,518L438,521.4L440.7,528L441.1,534L440.4,538L438.6,542L436,545.4L425.2,556L421.7,560L408,571.9L406,574.6L400,577.3L396,580.3L394,581L392,580.6L387.9,582L384,586.2L382,586.4L376,585.4L372,586.6L366,587.2L358,589.8L356,590.9L355.3,592L356.5,596L358,597.9L360,599.2L366.2,602L368,604.2L372,612L386,624.4L390,627.1L412,636.7L484,660.9L497.1,666L512.7,674L567.9,706L375,706L373.7,690L370.1,674L350,619.3L348,616L346,614L334,605.7L328,603.2L322,602.5L316,603.5L308,606.7L298.7,612L289.9,618L279.7,626L273.3,632L267.9,638L262.5,646L259.8,652L257.9,658L256.9,664L256.4,672L256.9,680L258.2,688L260.2,696L263.6,706L198.6,706L188,668L180.1,646L172.5,630L154,597.3L145.3,578L140,560.6L136.8,542L135.8,528L136.5,508L138.4,500L142.2,490L145.9,484L154,476.4L162,471.1ZM170,481.3L165.2,484L156.9,490L148,502L145.3,518L147.1,532L149.4,542L152.9,552L156.8,560L162,567.6L168,573.5L174,577.5L182,580.2L188,580.2L194,578.1L198,575.2L202,570.4L205.7,564L214.3,544L216,532L215.7,526L212,514L202,498.2L189.1,488L178,481L176,480.2L174,480.1ZM344,549.6L332.2,554L329.9,556L329.5,558L330.1,560L334,565.9L340,570L344,570.9L352,569.5L359,564L360.6,562L361.2,558L360,554.1L358,551.5L354,549.3L350,548.6ZM371.7,594L373,594L372.8,596L370,597.2L369.5,596L370,594.9Z"/>
<path fill="#785046" stroke="#785046" stroke-width="0.6" fill-rule="evenodd" d="M168.5,482L174,480.1L176,480.2L178,481L189.1,488L201.8,498L212,514L215.7,526L216,532L214.3,544L205.7,564L202,570.4L198,575.2L194,578.1L188,580.2L182,580.2L174,577.5L168,573.5L162,567.6L158,562L153.7,554L150,544L147.5,534L145.3,518L148,502L156.9,490ZM172,489.2L168,491.3L160,496.9L155.7,502L154.3,506L152.2,516L152.2,524L153.9,532L156.7,540L160,547L164,553L168,557.1L172,559.8L176,561.4L182,561.8L186,560.7L190,558.4L192.6,556L196,551.6L202.9,538L205.1,522L199.4,508L196.5,504L182,491.9L176,489ZM342.9,550L348,548.7L352,548.8L356,550.1L358.5,552L360,554L361.2,558L360.6,562L359,564L352,569.5L344,570.9L340,570L334,565.9L330.1,560L329.5,558L329.9,556L332.2,554ZM314.6,604L320,602.7L324,602.5L332,604.6L346,614L349.3,618L352,624L370.1,674L373.7,690L375,706L263.6,706L258.6,690L257.1,682L256.4,674L256.6,666L257.5,660L259.1,654L261.5,648L265,642L269.6,636L275.3,630L282.1,624L289.9,618L300,611.2L308,606.7Z"/>
<path fill="#8c645a" stroke="#8c645a" stroke-width="0.6" fill-rule="evenodd" d="M170.1,490L174,488.8L176,489L180,490.7L186,494.9L196.5,504L199.4,508L205.1,522L202.9,538L196,551.6L192.6,556L190,558.4L186,560.7L182,561.8L176,561.4L172,559.8L168,557.1L164,553L160.6,548L157.6,542L154.6,534L152.5,526L152.2,516L154.3,506L155.7,502L160,496.9ZM170,507.3L167.4,510L166.8,514L167.3,516L172,522.4L174,523.7L176,524.2L178,523.8L180.4,522L182.1,518L181.6,514L180.3,510L178.6,508L176,506.7L172,506.6Z"/>
<path fill="#b48c82" stroke="#b48c82" stroke-width="0.6" fill-rule="evenodd" d="M169,508L172,506.6L176,506.7L178.6,508L180.3,510L181.6,514L182.1,518L180.4,522L178,523.8L176,524.2L174,523.7L172,522.4L167.3,516L166.9,512L167.4,510Z"/>
<path fill="none" stroke="#fff" stroke-width="1.8" stroke-linejoin="round" d="M16,421.3L18.1,414L18.6,408L18,403.6L16,397.9M16,447L26.4,418L27.9,412L28.1,408L27.1,402L24.1,394L16,382M16,531.9L18.3,514L19.7,480L21.1,466L24.5,450L34.1,416L35.3,408L32,395.6L29.9,390L16,369.4M376,173.9L370,176.5L365,182L362.2,188L360.9,196L361.3,202L364.7,224L366,226.5L371.6,234L374,241.7L376,241.7L384,239.2L386,238.1L388,235.9L400.7,214L402.4,210L403.4,204L402.7,198L400.7,192L398,186.7L394,181.4L390,177.7L386,175.3L380,173.6L376,173.9M16,202.6L34.6,194L41.3,190L61.8,168L64.9,164L67.6,158L71.5,140M234,239.8L229.8,242L227.3,246L226.7,252L228,258L232,266.2L240,276.9L244,280.6L246,281.6L248,281.9L250,281.5L252,280.3L254,277.8L255.2,268L259.9,258L261.1,254L261.3,250L260.6,248L257.3,244L250,240.5L242,238.9L238,239L234,239.8M372,243.3L368,246.2L366,249L364.8,254L364.8,256L366,258.1L370,257.9L372.6,256L373.6,254L374.2,250L374,244.2L372,243.3M16,583.3L25.7,550L30.7,526L32.3,506L31.4,476L31.7,466L40.8,408L40.5,406L37.9,400L36.6,392L35.3,388L21.3,364L18.6,358L16,349.8M339.6,140L336.3,156L334,174.5L332.2,198L332.2,204L333,208L336.1,214L346,226.5L350.5,234L352.1,238L354.5,250L357,256L357.3,262L358,264.1L362,266.1L366,267.1L386,269.4L410,268.4L411.7,268L413.5,266L414.6,262L414.1,256L409.1,232L408.8,228L416.3,208L417,198L416.5,188L414.5,176L411.3,164L406,150.1L400.9,140M170,175.9L169.9,178L172,178.5L172.4,178L172,175.6L170,175.9M236,225.6L228,227.9L220,232.5L214.8,238L213.8,240L213.2,244L213.9,250L216.2,258L229,290L230,298L229.2,310L229.6,314L231.5,318L238.2,326L246,339.5L254.7,350L266,358.4L268,358.8L272,358.2L273.3,356L272.5,354L268.8,350L268.1,348L270.9,332L270.2,308L270.6,306L274,301.8L274.5,300L270.8,286L270,278L271.2,270L276.7,252L277.3,246L276.5,240L275,236L272,232L266,228.9L260,227.3L246,225.5L240,225.2L236,225.6M16,232.8L24,229.8L34,228.7L44,229.9L64,234.4L66.1,234L74,229.7L75.8,228L76.9,226L79.1,214L82,206.3L83.8,204L88,200.9L92,198.8L104,194.3L108,192.1L110.6,190L113.8,186L115.5,182L116.5,178L116.1,174L113,164L113.4,158L116,149.2L121,140M292,371.4L290,372.2L288.1,374L284.6,384L284,384.7L282,385.2L281,386L280,388L282,390.2L286,391.1L286.6,392L292,393.7L300,391.6L304,388.5L307,384L307.3,382L306.8,380L307.5,378L306.4,376L302,372.9L296,370.8L292,371.4M310,377.8L309.2,378L310,380.3L312,380.9L313.2,380L313,378L312,377.6L310,377.8M285.3,386L286,385.5L288,386.9L288,389.3L286,389.2L285.3,386M58,449.3L55.4,452L55.3,454L58.9,460L62,462.9L70,465.6L71.8,464L68.2,454L66,450.4L64,448.8L62,448.2L58,449.3M16,626L38.1,552L41.8,538L44.3,526L46.2,512L46.8,498L46.5,486L44.8,466L45.4,460L46.9,452L44.4,438L43.8,432L43.7,418L44.9,406L41.1,400L40.9,396L41.4,392L40,386.5L33.4,374L27,358L26.2,354L25.4,340L23,328L21.9,318L20.6,314L16,308.3M283.3,140L288,142.7L292,145.9L298,152.4L304,161.9L309.1,174L313.5,190L316.7,210L316.5,216L313,224L313.7,226L324,232.2L348,252.4L354,258.7L355.2,266L358,268.7L362,271.3L366,272.9L390,274.8L396,274L410,273.8L414,273L416,271.9L420,268.2L422,264L422.4,258L420.5,226L422,216L426.6,202L428.7,190L429.7,172L429.7,140M234,183.8L231.8,188L230.3,196L232,199.6L236,203.6L237.1,204L238,205.5L239.6,202L240.3,198L242.2,194L242.7,192L242.5,188L240,183.4L238,182.3L236,182.4L234,183.8M194,204.6L192.2,208L196,214L196,218.8L199.2,222L199.9,224L199.2,228L203,244L215.2,278L220,292.8L220.6,296L221,310L223.2,318L226,322.7L234.2,332L250,353.8L258,362.2L265.7,368L267.4,370L269.7,376L270.8,388L272.3,392L281.5,402L292,409L294,409.3L296,408.5L300,405.7L308,401.6L318,393.6L320,391.5L321.9,388L323.7,382L322.9,378L320,372.7L310,365.7L296.3,358L294,356.2L286.2,346L284.8,342L282.5,328L281.7,314L282.3,306L282.9,304L284,303L284.9,300L284,297L283.1,296L280.2,286L278.9,278L281.6,264L290.9,236L290.7,230L288.2,224L285.5,220L282,217.5L276,216L254,213.2L245,210L240.9,208L240,207L238,207.1L237.8,208L235.5,210L214.1,220L206,224.8L203.6,224L202.8,222L203,218L202.4,216L197.8,208L196,205.6L194,204.6M16,257L22,251.7L26,249.6L30,248.4L34,247.7L40,247.5L52,249.6L58,251.9L68,258.6L90,275.8L108,284.7L112,286L116.1,286L118,284.8L120,282.5L124,276.4L125.4,272L125.8,266L124.1,262L120.3,256L115.5,252L112,247.7L105.1,242L98.6,232L96.8,226L96.4,220L97.5,216L100.2,212L106,207.1L118,198.7L132,192.4L138,191L152,191.6L168,193.9L174,195.4L192,201.3L193.5,198L193.9,190L195.2,186L199.7,178L204,172.6L208,168.9L214,164.9L230,157.4L244,145.9L253.6,140M16,678.5L23.5,646L31.2,616L55.4,534L58,522L61.4,500L63.2,492L66.9,484L74,475.3L76.1,472L79.8,468L78.8,464L75,456L69.4,446L66,442.7L56,437.4L52.8,434L50.7,428L47.6,416L47.2,412L47.5,406L46.8,404L44.6,402L43.7,400L43.6,398L45.4,392L45.4,390L38.6,372L36,352L35.8,346L37.1,324L41.1,310L45.1,304L45.7,302L44,299.9L36,301L32,300.7L28,299.7L21.2,296L16,290.6M156,343.6L153,346L147.3,356L145.9,360L146,362L148.2,372L152.6,382L154.4,384L158,384.9L162,383.1L164.7,380L167.2,372L167.6,366L164,349.1L162,346.1L160,344.4L158,343.5L156,343.6M24.5,706L31.8,666L39.6,630L49.9,590L67.9,530L70,520L73.5,496L75.6,490L77.7,486L80.7,482L89.2,474L90.4,472L90.1,470L92,467.7L93.5,464L92,461.7L86,460L80.1,448L72,439.1L60.2,428L52,415.2L50.1,410L50,406L49.3,404L47.1,402L46.1,400L49.5,392L49.4,390L45.1,376L42.4,360L42.1,340L46.8,314L48,310L50.4,306L51.3,302L50.5,300L48.3,298L46,297L38,295.7L34,294.2L30.6,292L26.9,288L24.9,284L24,278L24.8,274L26.9,270L30,267L34,265.1L38,264.4L44,265L51.3,268L60,273.2L66,275.4L88,286.5L112,295.3L116,295.4L118,294.6L123.2,290L130,280L131.9,274L131.9,266L130.9,262L125.5,254L121.3,250L108,233.6L106.6,228L106.2,222L107.2,218L109,214L120,203.7L136,197.8L154,197.9L170,199.7L180,203.6L182,205.6L183.3,208L192,228L195.5,244L204,267.8L209.5,286L213.1,310L215,316L217.9,322L222.3,328L232.6,338L247.1,358L259.8,372L265.4,384L267.6,390L275.3,402L286,410.9L290,415L294,417.2L296,417.2L308,411.4L322,399.4L324.5,396L326.5,392L328.2,386L328.7,382L328.4,380L326.6,376L318,366L306,359.1L301.6,356L293.1,346L291.4,342L288.5,328L287.6,312L288.5,304L287.9,300L288,296L286,288L285.6,284L286.8,268L293.5,250L298,245.2L304,242.9L312,243.3L320,245.8L328,250L334,254.4L342,261.2L348,264.2L353.1,272L359.2,278L370,281.1L386,282.8L406,281.2L424,277.3L426,277.2L430,278.3L430.9,278L432,276.7L438,274.6L440.5,270L441.7,266L441.9,262L439,242L439.4,234L437.8,228L437.2,222L436,216.5L436,212L439.2,202L443.8,178L447,164L454.6,140M532,189.5L528,191.3L522,195.7L500,218.3L496.3,224L487.7,242L483.4,248L482.9,250L484.3,254L490,261.4L493.8,264L498,264.2L514,262.7L516.4,262L518.9,260L522.2,256L528,245.4L536,239.3L548.3,224L550.3,218L551.1,210L550.4,204L548.4,198L546,194.1L542,190.5L538,189L532,189.5M37.9,282L40,280.4L42,280L46,281.1L50,283.7L55.1,288L56.8,290L58.6,294L56,294.7L52,294.5L44,293.4L40.9,292L37.6,288L37,284L37.9,282M156,329.6L134,336.9L128,340.6L124,344.6L119.8,356L118.9,360L120.9,374L120.6,380L119.1,384L112,393.9L109.9,398L104,404L102.2,410L102.7,412L105.1,414L108,415L116,414L122,415.1L130,414L132.9,412L142,403.3L146,401.2L162.1,396L166,393.7L169.4,390L171.5,386L175.5,374L174.5,358L172.8,346L170.6,340L166.5,334L160,329.7L156,329.6M38.4,706L45.9,658L54.6,614L63.1,580L76,537.3L78.9,526L80.3,516L80.8,500L81.8,492L84.8,484L88.6,478L92.4,474L95.9,466L96.2,464L95.2,454L93.3,450L84.1,440L67.6,424L56,407.3L54.3,400L54.5,390L48.7,358L49,340L49.7,334L53.4,316L58.7,302L59.4,296L60,295.2L78,294L84,294.4L88,295.3L92.4,298L99.8,306L102,307.6L116,310.6L119.5,310L125.5,306L126.9,304L128,300L132,300.8L132.9,300L134,292L138.7,278L142.7,264L143.2,260L142,256L139.7,252L132,244.1L124.8,240L119.5,232L118.8,228L118.8,220L119.5,218L123.3,212L126,209.4L132,207L150,205.6L168,207.1L172,208.8L175.2,212L177.6,216L178.9,220L180.8,230L180.5,238L183.8,250L192,267L197.7,282L199.9,300L200.9,304L203.4,310L210.8,324L214.4,330L218,333.8L228,340.4L232,344.1L252.6,372L261.2,386L270,403L276.3,410L282.5,418L284.6,422L286.4,428L286.9,438L288.6,448L288.3,454L290,455.3L292,455.6L298,455.2L308,455.4L312,454L314.6,452L315.9,450L316.8,446L315.5,440L310.3,428L310.2,426L310.8,424L315.2,418L326,407.6L328,404.8L333.4,392L334.3,382L333.5,378L332.4,376L325.6,368L323,364L307.3,356L297.9,344L295.3,328L293.3,298L290.4,284L290.5,270L292,266.2L298,256.9L300,255.1L302,254.1L308,253.7L326,257.8L330,260L340.2,268L356,284.2L360,286.1L370,289.5L384,291L404,289.3L422,285L430,283.8L436,283.8L454,276.5L460,274.8L461.5,272L461.9,270L462,260L454.2,206L454.3,198L456,189.7L458.7,182L462,175.1L466,168.5L472,160.7L478,154.6L484,149.6L492,144.2L499.6,140M850.4,140L868,167.3L876,176.4L884,182.6L896,190.4L906,195.8L914,198.9M477,192L482,190.3L484,190.5L487.2,192L490.2,196L491.2,202L490.4,208L488,214L484,219.6L482,221.4L478,222.5L471.2,220L470,218L470,214L468.3,208L468.7,204L471.1,198L474,194.3L477,192M142.8,214L152,213.6L162,214.8L165.9,216L168,217.6L170,220L170.8,222L171.2,226L170.2,232L168,235.3L162,239.6L156,240.9L140,239L129.7,234L127.8,232L125.7,228L126.1,222L128,218L130.6,216L134,214.8L142.8,214M502,301.7L498,302.9L496,304.3L494,306.6L492.5,310L492.2,314L493,318L494,320L495.8,322L498,323.1L502,322.8L504,321.6L509.7,316L511.1,312L510.4,308L508,304.7L506,302.9L502,301.7M190,343.7L189.2,346L190,346.4L192,346.5L193,346L194.6,344L192,343.1L190,343.7M52.1,706L58.6,654L66,610L73.2,578L85.7,534L88.1,524L88.9,514L87.1,496L87.8,486L90.6,478L96.1,470L98,461.1L102.1,456L102.5,454L102.1,450L100.3,444L96,435.6L90.1,428L88,424L76,412.9L73.9,410L65.8,394L59.3,372L57,356L57.9,338L62.1,320L68,305.1L70,303.7L72,303.5L78,304.8L82,306.8L92,314.4L96,315.9L100,316.6L110,316.1L118,316.5L122,315.2L126,312.8L130,311.7L134,311.6L140,312.7L141.8,312L142.2,310L141.5,306L141.8,304L144,301.7L144.5,296L146.3,292L147,286L148,282.7L154,272.4L156,270.1L158,268.6L162,267.2L168,267.3L172,269.1L174,270.6L184.5,282L186,284.3L187.2,288L189.1,300L187.2,308L186,310.7L184,313L180,315L174,315.5L164,317.9L162,317.9L158,316.9L154,317.4L152,316.1L149.8,316L148.9,318L152.4,320L151.4,322L144,323L128,329.1L116.8,338L115.6,340L115.2,342L114.7,354L113.7,360L114,378L108,392L104,397.7L100.1,402L98,405.9L94,409.2L88,411L86.8,412L86.2,414L86.7,416L88.5,420L90,421.4L94,419.7L100,418.9L108,419.5L116,418.5L126,419.5L130,419.1L146,410.1L152,408.7L158.2,406L168,402.9L172.5,400L176,395.8L178.3,392L182.3,378L182.4,372L184,359.4L186,358L184.5,356L182.3,350L181.9,348L182.5,344L181.9,342L174,328.9L170,324.7L166,324.3L162,320.3L158.8,320L162,318.9L164,319.2L164.6,320L172,323L174,322.9L178,321.7L186,317.7L190,317.4L194,318.6L198,321L202,326L203.3,330L203.4,334L202,337.9L198.7,342L200,344L204,346.7L208.5,352L209.3,354L210,358.8L212,361.2L218,364.6L222,368.2L226,369.3L228,368.8L228.7,368L229.8,366L229,364L220,362.9L218,361.6L217,360L215.3,354L215.9,350L217.3,348L220,346.4L224,346L228,347.3L230,348.9L240.7,364L243.8,370L256.4,390L264.3,406L274.3,422L278,432L278.9,436L279.8,448L279.7,450L277.8,454L277.6,456L278.8,458L282.2,460L290,461.4L308,460.8L320,458.5L324,456.5L326,453.1L327.1,446L325.5,432L325.8,428L328.7,420L334.2,412L339.3,398L340.3,384L340.2,380L338.4,374L336,370.8L330,365.8L326,360.9L311.4,352L308.7,348L304,335.7L303.1,332L301.4,312L301.9,300L301.5,296L299.9,292L296,286.8L294.4,282L294.3,272L296.2,268L300,264.5L302,263.3L304,262.7L308,262.5L322,265.5L326,267.3L330,270.5L339.8,284L343.7,292L346,294L352,295.3L354.8,298L356.5,302L356.9,306L354.7,314L354.3,326L356,329.8L358,331.9L362,334.1L364,334.1L366,333.2L368,331.2L374.3,322L379.8,310L382.8,306L386,303.5L392,300.7L400,298.4L416,295.4L432,294.3L446,291.3L464,289.9L472,290.4L480,288L496,284.4L510,279.8L514,277.8L530,266.8L537.5,258L544,253.6L552,244.5L562.7,234L567.7,228L571.9,222L577.1,212L581,202L584.4,190L591.4,160L594.5,150L598.4,140M802.2,140L809.7,148L816,156L822.8,166L828.6,176L835.5,190L849.6,222L858,246.4L860,250.5L862.5,254L866,257.1L870,259.2L876,260.8L882,261.6L896,261.2L914,257.7M304.9,270L310,269.8L316,271.1L320,272.5L324.8,276L328,280L331.3,286L332.8,296L333.6,298L335.7,300L338,300.4L348.9,300L350.1,302L348.7,310L348.6,316L347.5,324L348.1,330L346,333.7L344,334.8L342,334.8L338,333.5L336,333.6L330,336.4L326,337L322,335.4L318,331L316,326.8L313.5,318L312.6,304L311.1,294L308,288.7L302,284.5L300,282.3L298.5,278L298.8,274L300,272.3L302,270.9L304.9,270M161.3,280L164,278.8L168.6,280L173.7,284L178.2,290L178.6,296L177.6,302L176.3,306L174,307.9L156,308.5L150,307.3L148,305.5L146.7,300L148,297.3L152,295.6L155.9,296L155.7,300L156.8,300L156.9,298L156,296L156,294L156.7,288L158.2,284L161.3,280M91.5,346L94,344.3L96,345.3L96,347.7L95.2,350L96,354L103,364L106.8,368L108.2,372L107.9,376L106.9,378L98.4,384L97,386L96.2,392L94,394.1L92,394.5L88,393.4L83.9,390L82.9,388L81.9,380L80.5,376L73.2,368L72.2,366L72.2,364L74,362L78,360.1L81.1,358L91.5,346M196,444.8L195.4,446L197,446L196,444.8M229.3,452L230,451.5L230.4,452L230,452.5L229.3,452M65.8,706L70.6,652L76.4,608L83,574L94,531.4L96.3,520L96.2,512L91.5,490L91.4,482L93.2,476L96.8,472L97.9,470L98.8,464L99.8,462L104.4,458L106.5,454L108.1,438L107.8,430L108.5,428L110.3,426L113.9,424L116,423.5L128,425.4L132,424.6L142,420.9L158,419L166,419L173,416L176,414L178,411.4L179.6,408L183.3,396L185.3,388L187.8,372L192,359.3L194,355.7L196,354.2L198,353.8L200,355.2L201.6,358L203.6,366L205.6,370L208,372.4L210.8,374L216,375.2L230,374.9L232.5,374L234.6,372L236,368.8L238,370.8L245.6,384L252,396.7L256.9,410L258.4,416L258.2,422L256.5,428L249.9,440L246,441.8L242,440.8L234,440.8L230,439.8L222,436.5L218,436L214,437.7L212,440L209.9,448L209.9,450L214,450.5L222.7,454L225.2,456L227.5,460L230,461.2L231.8,458L232.9,454L236,452.6L238,451.1L240.5,448L242,445L244,442.9L246,442.3L246.8,444L248.9,446L254,448.7L256,450.8L257.2,454L256.8,462L260,464.1L288,465.2L306,464.7L322,463.1L326.9,462L330.3,460L331.4,458L333,452L335,448L335,444L333.3,436L333.6,428L335.1,424L339.6,418L341.9,414L345.7,402L346.7,396L348,378L348.7,376L356,368.1L360,365.2L366,363L390,356.6L394,354L396.1,352L398,348.4L398.2,346L395.9,324L396,320L396.7,316L398.8,312L401,310L406,307.8L414,306.2L432,303.9L438,302.1L450,297.3L458,295.3L462,295.6L465,298L466.9,304L466.9,306L465.3,312L465.5,328L466,329.2L468,331.3L470,332.1L474,332.2L476,332.9L478.6,336L479.8,342L479.7,358L481.3,362L484,366L488,369L506,373.3L516,376.5L520,376.9L522,376.1L524.1,374L525.1,372L531.9,356L539.7,344L543.5,328L545,318L546,316.2L548.8,314L548,313.1L547.6,310L548,309.6L554,309.5L562,307.8L563.7,304L564.1,300L562.1,292L558.9,288L558.6,284L558,283.3L556,283.3L554.7,278L551.5,270L550,268.7L548,265.6L547.4,262L547.8,260L554,257.7L556.3,256L564,252.9L568,250.6L582.6,238L593.5,226L599.1,218L603.8,210L619,178L626.4,164L634.1,152L643.8,140M310.3,280L312,278.4L314,278.2L317.9,280L319.3,282L319.8,284L319,286L318,286.7L316,286.6L314,285.8L311.9,284L310.6,282L310.3,280M327.4,312L330,310.4L332,310.3L336,311.3L338.5,314L338.7,316L338.1,318L336.2,320L334,320.8L332,320.9L329.2,320L327.2,318L326.5,316L326.5,314L327.4,312M450,319.9L450,319.9M88.4,364L90,362.8L92,362.5L94,363.6L98,368.9L102,372.2L103,374L102,375.7L100,376L92,375.2L89.5,374L87.7,372L86.6,368L87.1,366L88.4,364M188,433.4L186,434.7L186,436.1L188.1,436L188,433.4M243.1,456L246,454.2L248,454.3L250.5,456L250.8,458L250,458.9L244,461.9L241.9,460L242,458L243.1,456M79.6,706L82.3,650L86.6,604L91.5,572L101.7,526L102.9,518L102.6,512L100.3,500L98.7,494L94.3,484L94,478L94.9,476L99.2,472L100.1,470L101.3,464L107.5,460L109.6,458L112.3,454L118,442.5L121.2,438L124,435.5L142,426.9L148,425.2L156,423.7L168,423.4L176,421.7L186,420.6L188,419.8L190,417.3L191.2,414L193.1,402L194.4,398L198.3,392L204,386L208,384.3L220,381.4L230,378.2L234.7,380L243,394L246.5,402L248.6,410L248.6,418L248,420.1L246,423.2L234.6,434L232,434.8L230,434.6L224,431.1L220,429.7L216,429.2L212,429.6L207.3,432L203.1,438L201,440L196,442.8L194.7,444L194,446L196,446.8L200,445.6L200.8,446L202.2,450L204,451.4L213,454L220,460.9L228,465.2L230,465.4L234,463.2L238,466.3L240,466.5L244,464.9L247.1,466L258,468L264,468.5L308,467.8L324,466.5L328,465.6L331.3,464L333.5,462L341.5,450L342.3,448L342.7,444L341.3,434L341.7,430L343.4,426L348,419.3L352.6,408L355.9,392L357.2,382L359.6,378L364,374L367.5,372L386,367.5L400,360.9L403.5,358L405.8,354L406.7,350L407.1,344L406.8,330L408,326.2L410,323.7L412.5,322L416,320.9L432,319.2L442,316.5L444,315.4L448.3,308L452,304L456,301.5L460,300.7L461.3,302L461.4,304L460.7,312L458.3,318L459.4,324L455.1,330L455.1,334L456.5,340L457.5,350L461.1,368L468.1,382L470.6,390L473.1,394L476,396.2L482,398.3L488,398.9L494,398.5L526,392.3L540,387.2L544.4,380L549.1,376L550.5,374L551.3,368L550,360L550.1,358L551.1,356L558,347.5L568.8,332L573.9,326L580,321.6L586,319.7L588.2,318L589.3,312L591,308L592,303.4L594.8,298L595.6,294L595.7,290L594.9,284L590.6,272L589.8,268L590,266L591.9,262L597.3,256L610,244.7L615.7,238L620,231L632.7,206L639.7,194L648,182L658,170.4L670,159.8L682,152.1L696,145.9L710,142.4L720,141.4L732,141.8L742,143.3L752,146L762,150L772,155.3L782,162.2L790,168.9L798,177L805.6,186L812,194.7L819.2,206L831,228L838.9,246L846.9,266L849.6,270L852,271.7L856,273.1L886,277.4L900,278.5L914,278.6M738,371.7L730.3,376L726.1,380L712.9,398L710.8,402L710.1,406L711.1,412L714,417.1L717.4,420L726.6,426L728.3,428L731.1,434L733,436L738,437.7L740,437.5L744,435.8L746.2,434L748,431.2L755.4,412L758.8,398L762.7,386L763.9,378L763.4,374L762,371.7L760,370.5L758,370.1L742,370.8L738,371.7M217.1,392L220,391.7L226,393.5L230,391.9L234,394.5L236,396.6L238,400L239.6,406L239.3,412L238,415.4L236.2,418L232,422.2L230,422.7L228,421.4L226,421.2L222,422L220,421.9L216,421L209.9,418L206.8,414L205.7,408L207,402L209.4,398L212,395.1L217.1,392M100,476L104,474.4L107,476L107.4,478L105.3,482L102,483L100,482.6L98,480.7L97.7,478L100,476M93.5,706L93.7,654L95.1,614L96.6,594L98.8,574L108.1,518L106.2,498L107.2,488L106.8,482L108,480.8L108.4,476L110,474.2L112.9,466L122.4,450L130.5,440L144,430.9L150,428.6L156,427.2L176,426.5L180,427.6L182,429.4L182.9,432L183.3,436L184.6,438L186,438.9L188,438.6L192,434.9L194,434.4L196,435.3L196.6,438L196,440L192.8,444L192.7,446L194,447L200,447.7L202,452.5L204,454.2L208.7,456L210.8,458L213.3,462L216,464.8L224,471.4L228,473.4L230,473.2L232,471.8L234,471.2L238,472.6L240,472.2L242,470L246,470.4L250,469.6L254,471.6L262,472.4L304,471.4L324,470.2L330,468.9L334.9,466L340,459.9L342,458.5L352,455.8L353.7,454L354.2,452L351.2,438L351.2,432L352,429L354.1,426L354.1,420L356,418.1L359.8,416L361.5,414L362,405.2L364,403.7L366,403.5L367.9,402L370,397.2L374,395.3L380,391.2L382.5,390L394,386.8L400,386.7L414,389.1L430,395L458.8,408L488,419.4L496,421.5L502,420.7L510,416.1L520.1,408L534.6,400L544,396.1L546,394.8L547.9,392L549.8,382L555.6,378L559.2,374L566.3,360L574,347.3L583.8,332L586,330L600,324.6L612,321.7L615.6,320L616.6,318L617.1,314L620,308.3L623.4,304L632,295.5L636,287.2L636.9,282L635.3,264L635.8,258L639.3,244L642.1,236L646,227.5L652,217.4L658,209.1L664.2,202L672,194.6L680,188.3L688,183.4L696,179.5L704,176.7L712,174.8L722,173.7L734,174.1L744,175.8L754,178.9L764,183.4L774,189.3L784,196.9L794,206.2L804,217.6L812,228.7L818.7,240L823.1,250L827.1,264L830,278L828,284.7L826,286.6L823.2,288L823.1,290L824,290.6L830,291.6L836,290.4L842,288.3L850,284.2L854,283.6L890,292.4L914,296.5M710.5,208L720,206.4L728,206.1L736,206.6L746,208.5L756,211.7L764,215.4L772,219.9L780,225.5L788,232.4L795.2,240L800,246.4L803.9,254L804.9,258L804.6,262L798.4,276L784.9,298L778.5,302L774.2,306L772,307L768,307.8L764,307.1L760,309.2L758,309.4L756,308.4L754,308.7L750,312.3L738.8,316L734,318.3L732,317.7L731.2,316L730.7,312L729.5,310L728,309.2L726,309.3L724,310.1L710,321L706,323.3L702,324.4L696,323.6L681.3,320L664,319.2L660,318L656,315L654,312.1L652,306.5L650.9,300L649,282L649.7,262L651.3,256L656,247.9L662,239.8L668,233.1L676,225.7L684,219.7L692,215L702,210.5L710.5,208M218.2,404L220,403L222,402.7L224,403.2L225.4,404L226.8,406L226.8,408L225.2,410L224,410.7L222,411.2L220,411L218.3,410L217.1,408L217.1,406L218.2,404M722.2,494L724,493.3L724.4,494L722.2,494M107.9,706L105.2,644L104.8,604L106.5,570L111.8,524L112,514L111.2,500L111.5,496L116.1,476L123.6,458L127.5,452L135.3,442L142,436.4L146,434.1L154,431.3L160,430.4L172,430.3L178,432L180,434L182,438L184,440.1L186,440.9L190,440.7L190.9,442L190.6,444L191,446L192,446.9L194,448L196,448L199.3,450L200.6,454L202,456.6L206,460.3L220,477.9L226,482.4L228,482.8L230,482.2L232,480.7L234,480.3L238,480.9L242,479.5L248,479.6L252,478.7L272,477L326,474.8L332,473.1L342,467.4L354,465.1L359.1,462L360.9,460L362.9,456L364.5,438L365.2,436L372,427.6L374,423.8L378.7,420L380,417L382,416L383.9,414L384.1,412L386,410.4L398,406L406,402.4L410,402.3L462,416.8L474,425.5L483.5,436L487.3,442L489.5,448L492.3,464L496,477.3L498,480.8L512,494.9L526,503.9L530,505.1L540,506.4L546,506.2L552,503.9L556.8,500L559.5,496L559.7,492L558.3,488L551.4,474L548.2,466L540.5,456L538.9,450L538,448.9L536,448.5L534,449.5L532,448.8L531.1,446L531,442L532.1,434L533.9,428L537.5,422L546.7,410L547.6,408L548.6,400L550,395.8L554,392.5L559.5,390L576.1,380L578.5,378L585,366L594.3,352L598,344.8L601.6,342L614,339.1L620,337L632,330.2L644,324.3L656,324.8L660,325.5L672,332.6L678,334.2L688,334.4L700,331.1L704,330.9L708,332.4L712,335.2L720,343.1L721.4,346L721.5,350L718,360L716,363.8L712,368L708,369.8L690,369.8L686,370.6L669.1,384L662,392L657.7,396L656.1,398L655.4,400L656,404.3L658,407.8L660,410.1L664,413.1L668,414.9L676,415.9L680,417.5L682,420.3L682.6,424L679,436L676.9,448L675.8,450L672,452.2L670.1,454L668.3,462L666,463.1L665.3,468L662.7,472L659.9,480L657.5,484L657,486L658,496.6L659.8,502L661,510L662,511.9L664,512.5L666.8,512L671.9,508L674,507.7L686,511.1L690,511.5L694,510.9L700,508.8L716,501.1L719.2,506L721.3,508L724.3,510L728,511.6L731.4,512L732,511.9L733.2,510L733.7,508L732.6,502L734.1,494L734,488L734.8,486L736,485.2L738,482L736,480L735.5,478L736,476L742,474.8L746,470.3L750,469.8L758.5,464L767.6,460L767.3,458L772.9,450L773.5,448L772.6,432L774.5,410L780.4,382L786,367.4L786.2,364L784.8,352L784.9,344L787.3,334L790.8,328L794,325.2L798,322.9L821.7,312L842,303.9L854,300.5L860,300.5L868,302L914,315.2M624,505.7L620.8,508L619.7,510L620.4,512L622,512.5L624,512.2L625.6,510L626.6,506L626,505.3L624,505.7M122.8,706L115.8,632L113.6,596L113.5,568L116.1,526L115.9,498L119.9,478L128,460L136,448.1L139.5,444L143.5,440L147.2,438L154,435.5L158,434.6L166,434.2L172,435L178,437.3L182,441.4L186.6,444L190.7,448L197.5,450L198,452L196.7,456L197.5,458L203,464L214,479.1L219.3,484L224,489.9L228,491.9L234,491.8L242,489.9L255.6,488L270,483.7L276,484.4L282,487.9L284,487.7L290.9,484L298,482.8L320,482.3L332,483.5L342,485.3L343.3,484L342.4,482L340,480.1L340,478L354,473.6L360,471L366.8,466L373.6,458L375.4,454L380.3,438L381,434L380.9,430L382,427.5L388,423.8L390,423.2L394,420L400,418.6L402,419.5L408,416.1L424,418.5L442,422.6L456,427.6L460.3,430L470,438.4L472.3,442L474.4,448L476.6,470L481.7,488L483,490L486,492.4L491.6,500L500,508.5L504,511.7L516,518.4L534,522.7L552,525.3L578,530L594,527.5L599.6,526L610.3,522L613.8,520L614.7,518L612.9,512L614.1,508L613.7,506L609.4,500L602.9,494L588,488.7L582,485.1L566.7,464L556,451L554,449.8L550,450.8L547.6,450L547.2,448L549.1,436L548.4,426L549.1,420L550,417.7L554,414.4L574,403.2L590,396.9L612.3,390L613.7,388L613.6,386L612.9,384L610.1,380L609.3,376L610.3,372L611.8,370L618,366.1L632,359L636,355.3L641.2,348L646,344L650,342.5L652,342.6L658,344.9L664.7,350L666,352L666.2,354L665.3,360L663.7,362L660.2,364L658,368.1L652,368.6L634,372.6L630,374.4L627,378L622.7,390L623.1,394L624.7,398L627.6,410L634.2,422L644,446.8L646,450.1L648.1,450L648.7,452L648,454.9L645.3,458L644.3,462L641.7,466L634,481.1L630.1,486L627.8,498L628.1,500L630,503.5L630.6,506L638,512.8L652,534.5L656,538L660,540.1L666,541.7L670,541.7L682.3,538L698,536.1L708.3,528L722.4,520L726.8,518L732,516.7L738,513.5L748,511.5L752.1,510L763.7,502L771.7,494L783.8,478L790.7,468L792.9,464L797.3,452L798.4,448L799,442L798.2,428L794.5,396L792.3,386L792.2,382L796.6,370L797.1,358L798,354L802.3,344L806,338.9L810,336.5L838,323.6L848,320.7L856,320L864,320.7L874,323.1L914,337.3M586.9,418L590,417.5L602,418.8L606,420.7L609.2,424L612.2,430L614.6,440L616.2,444L620,448.8L622,449.9L624.3,450L624,452.7L622,455L620.4,456L620.4,458L621.3,460L620.9,462L618.6,464L614,466.2L610,466.8L607.7,468L604.1,468L600,465.3L592.5,462L590,460.3L588.2,456L586,455.5L584,454.4L580,450.3L578,450L572,451.7L570,451.5L567.1,450L566.4,448L566.6,446L568,442.9L570.1,440L570,438L567.5,432L567.3,430L567.9,428L570,425.5L574,422.7L586.9,418M602,449.8L600,450L597.9,452L597.1,454L597.2,456L598.3,458L604,464.2L606,463.5L608,460.9L610.4,456L610.5,454L609.2,452L608,451.3L604.8,450L602,449.8M138.8,706L124.9,616L121.5,588L120.2,560L121,500L124.7,480L126.2,476L132,464.8L138,455.4L144,447.9L148,444.2L152,441.9L156.9,440L162,439L168,439L172,439.8L178,442.2L190,450.2L194,451.4L194.6,452L193.2,456L193.4,458L195.6,462L211.2,480L226.5,496L230,500.9L232,502.3L234,502.8L236,502.2L238,500L240,498.9L254,496.4L270,490.2L272,490.4L274,491.5L280,496.7L282,497.7L284,497.6L291.2,492L295,490L316,489.1L331.3,492L338,497L340,497.5L342,497.3L346,494.7L356,484.4L364,479.6L376,471.3L382,464L394,458L396.1,456L404.5,444L406,439.5L408,438.4L412,438.9L416,434.9L418,434.3L420,434.7L428,432.7L432,432.8L444,435L452,437.9L455.8,440L458.7,444L460.1,450L459.4,462L460.5,470L465.5,482L466.8,488L468,489.2L470.1,490L472.6,496L475,500L480,505.9L492,517.9L507.9,528L526,535L546,538.6L564,542.9L588,552.2L606,557.5L620,560.8L628,562L640,562.3L654,563.8L682,568.8L690,569L694,568.2L698,566.2L708,558.5L720,545.5L730,535.6L734,532.5L742,530.4L752,528.9L758,526.8L764,523.3L784,509.1L792,502.5L798.4,496L805.2,488L811,480L815.7,472L820.3,462L822.9,454L824.9,444L825.5,428L822.3,396L821.4,372L821.9,368L823.1,364L825.5,360L827.4,358L834,353.5L844,349.8L852,348.4L862,348.7L870,350.3L881.8,354L914,367.6M520,579.6L517.5,582L517,584L517.3,586L518.5,588L520.7,590L526,592.5L528,592.7L533.9,590L535.1,588L530,581.2L526,579L522,578.9L520,579.6M156.1,706L147.5,664L134,607.9L129.2,584L127.4,570L126.2,556L125.6,520L126.6,498L130.2,482L131.6,478L140,464.3L143.3,460L155.3,448L160,445.1L166,443.9L172,444.6L180,448L185.6,452L188,454.8L189.7,460L192,464L200,471.5L215.9,488L224.7,498L230.6,506L231.3,508L231.3,510L230,514L232,515.9L234.1,516L242,512.7L251.7,512L264,506.7L268,505.6L272,506.5L278,510L282,511.4L286.3,510L294,505.5L298,504.4L320,506.9L340,512.7L342,512L354,497.1L358,493.8L376,488.1L380,489.6L382,488.5L383,486L388,484.3L394,479.3L408,472.5L416,471.6L426,471.8L430,473L438,478L442,479.8L444,484.2L446.7,486L446.2,488L447.8,490L452,490.2L454,491.8L463.7,506L474,518.3L477.9,522L488,529.7L502,536.9L522,546.1L528,547.8L542,550.3L558.2,556L560.1,558L560.7,560L560,568L560.6,570L566,581.8L568,583.9L570,584.9L574,585.7L578,585.4L582,583.9L592,577L598,575.5L606,575.1L630,578L631.3,580L630.7,582L632,584.1L639.1,584L641.1,586L646,587L650,585.4L654,588.2L659.3,588L662,589.8L668,590.5L672,592.3L681.5,594L692,597.6L704,598.3L738,597.6L742,596.9L748.4,594L754.5,590L761.8,584L769.7,576L792.9,550L822.1,522L835.2,508L844.6,496L853.6,482L861.1,468L874,439.8L878,433.2L882,428.5L888,424.3L894,422.5L902,422.1L914,424.1M175.7,706L168.8,678L162.6,656L156.6,638L144,603.6L137.9,584L135.1,572L133,560L130.8,534L130.6,518L131.6,500L137,482L146,468.5L152,462.2L159.8,452L164,449.7L168,449L174,450.2L178,452.9L180.9,456L187.1,466L198,473.8L214.6,490L222,498.4L227.7,506L228.4,508L227.4,514L227.8,516L230,518.8L234,521.4L236,521.4L240,519.8L242,519.7L252,521.1L268,521.8L298,513L318,514.9L336,520.2L340,520.6L342.1,520L348,515.7L356,511.5L370,506.3L384.7,500L398,495.8L414,491.7L426,493L429.3,494L431.6,496L440,501.1L449.2,512L460,529.2L470.6,544L472.8,548L473.9,552L473.9,554L472.2,558L468.3,562L465.9,566L462,570.6L454.9,576L453.9,578L452,579.7L448,581.2L445.1,584L442,585.9L440,586.6L438,586.5L436,587.4L430.5,594L427,596L423.3,602L417.9,608L417.7,610L419.9,612L446,620.2L462,624.4L466,623.5L476,618.8L486,616.2L492,615.7L504,616.4L508,617.2L514,619.4L540,631L548,633.7L556,635.5L564,636.6L572,637L596,635.7L604,635.9L612,637.1L636,642.7L650,644L664,643L678,639.2L688,635L710,622.1L716,619.8L752,617.1L762,618.6L772.1,622L778.6,626L780.7,628L783.5,632L784.9,636L785.2,640L783.6,648L779.6,656L767.3,674L757.8,684L751.5,692L747.8,698L743.7,706M371.7,594L373,594L372.8,596L370,597.2L369.5,596L370,594.9L371.7,594M198.6,706L188,668L180.1,646L172.5,630L154,597.3L145.3,578L140,560.6L136.8,542L135.8,528L136.5,508L138.4,500L143.2,488L146,483.9L156,475L164,470.1L172,467.4L174,467.4L178,468.3L185.1,472L194,475.5L204,483.3L212.8,492L216,496.3L220,500L225.9,508L225,512L225.1,516L228.5,522L230.7,528L236.4,534L248,548.1L254.2,554L255.5,556L256.5,560L258,562.5L262,565.9L266,567.3L270,567.6L274,566.9L278,565.2L282,562L285.8,556L289.5,546L298.8,532L302,529.2L308,526.8L312,526.2L318,526.3L330,527.8L338,529.8L342,530L350,527.7L364,522.4L380,520.7L392,515.8L402,513.9L428,515.7L435.2,518L438,521.4L440.7,528L441.1,534L440.4,538L438.6,542L436,545.4L425.2,556L421.7,560L408,571.9L406,574.6L400,577.3L396,580.3L394,581L392,580.6L387.9,582L384,586.2L382,586.4L376,585.4L372,586.6L366,587.2L358,589.8L356,590.9L355.3,592L356.5,596L358,597.9L360,599.2L366.2,602L368,604.2L372,612L386,624.4L390,627.1L412,636.7L484,660.9L497.1,666L512.7,674L567.9,706M226.6,706L220.3,682L212,641.9L209.7,634L207.1,628L203.1,622L199.2,618L176,600.6L168,593.2L162,586.4L156,577.8L150.8,568L146.8,558L144,548L141.5,534L140.7,522L141.3,510L143.8,500L149.5,490L154,484.9L164,477.8L172,474.4L176,474L178,474.5L188,479L192,481.4L198,486L202,490.7L206.8,494L208.4,496L210.1,500L215.1,504L220,510.2L222.4,518L225.7,524L226.2,528L228.4,534L229.6,540L228.7,554L225.4,564L224.9,568L224.8,576L225.8,584L227.6,590L230,594.4L233.7,598L238,600.2L244,601.5L250,601.6L256,601L264,599.3L272,596.7L280,593.3L288,588.8L294,584.5L305.6,574L306.3,572L306,570L302.8,560L302.2,554L304,549.3L307.9,544L314,540.7L320,539.6L336,538.8L350.9,536L366,534L368,534.2L372.7,536L386.8,546L389.7,550L390.5,554L389.8,556L386.8,560L385,566L384,567.2L378.8,570L375.9,574L374,574.7L370,574.4L368,575.3L354,584.8L350,585.7L349,588L348.9,590L349.6,594L348,594.5L346,594.3L344,595.5L343.1,598L343.4,602L344.6,604L346,605L350,605.2L352.4,606L368,628.9L376,639.1L384,647.4L400,662L405.3,668L410,676L418,695.9L423.3,706M168.5,482L174,480.1L176,480.2L178,481L189.1,488L201.8,498L212,514L215.7,526L216,532L214.3,544L205.7,564L202,570.4L198,575.2L194,578.1L188,580.2L182,580.2L174,577.5L168,573.5L162,567.6L158,562L153.7,554L150,544L147.5,534L145.3,518L148,502L156.9,490L168.5,482M342.9,550L348,548.7L352,548.8L356,550.1L358.5,552L360,554L361.2,558L360.6,562L359,564L352,569.5L344,570.9L340,570L334,565.9L330.1,560L329.5,558L329.9,556L332.2,554L342.9,550M263.6,706L260.2,696L258.2,688L256.9,680L256.4,672L256.9,664L257.9,658L259.8,652L262.5,646L267.9,638L273.3,632L279.7,626L289.9,618L298.7,612L308,606.7L316,603.5L322,602.5L328,603.2L334,605.7L346,614L348,616L350,619.3L370.1,674L373.7,690L375,706M170.1,490L174,488.8L176,489L180,490.7L186,494.9L196.5,504L199.4,508L205.1,522L202.9,538L196,551.6L192.6,556L190,558.4L186,560.7L182,561.8L176,561.4L172,559.8L168,557.1L164,553L160.6,548L157.6,542L154.6,534L152.5,526L152.2,516L154.3,506L155.7,502L160,496.9L170.1,490M171.9,498L174,497.6L178,498.3L182,500.3L186,503.3L190.3,510L191.8,514L192.5,518L192.1,524L189,532L182,541.8L180,543.7L178,544.5L176,544.4L172,542.5L166,536.1L160,525.1L158,518.4L158.2,516L162.5,504L166,500.7L171.9,498M169,508L172,506.6L176,506.7L178.6,508L180.3,510L181.6,514L182.1,518L180.4,522L178,523.8L176,524.2L174,523.7L172,522.4L167.3,516L166.9,512L167.4,510L169,508"/>
</g>
<path d="M73.1,209.4L81,213.3L86.1,216.6L87.4,222.4L87.5,227.4L94.1,230.8L104.8,230.5L109.2,233.9L117.5,234L132.6,233.6L137,234L141.9,233.7M141.9,233.7L146.7,234.9L151.5,236.1L156.4,237.3L161.3,238.4L166.1,239.5L171,240.6M182.9,179.5L181,188.2L179,196.8L177.1,205.5L175.1,214.2L173.2,223L171.2,231.7M171.2,231.7L171.5,236.4L171,240.6M171,240.6L175.1,250.1L170.9,255.6L167,263.2L160.1,270.3L161.1,275.9L162.2,279.3L159.3,285.1M159.3,285.1L157.9,291.3L156.6,297.4L155.2,303.5L153.8,309.7L152.4,315.8L151,322M44.3,293.7L54,296.6L63.7,299.5L73.4,302.3L83.2,305L93,307.7L102.8,310.3L112.6,312.8L122.4,315.2L132.2,317.6L142.1,320L152,322.2L161.9,324.4L171.8,326.5L181.7,328.5L191.6,330.5L201.6,332.4L211.5,334.3L221.5,336L231.5,337.7L241.5,339.4M106.6,311.3L103.9,321.4L101.3,331.6L98.7,341.8L96,352L93.4,362.2L90.8,372.4M90.8,372.4L97.1,382.7L103.5,393L110,403.3L116.6,413.5L123.3,423.7L130.1,433.9L137.1,444L144.1,454.2L151.2,464.2L158.5,474.3M158.5,474.3L160.4,461.8L160.8,453.3L166.8,451.9L172.7,452.4M172.7,452.4L175,440.3L177.4,428.2L179.7,416.1L182,404L184.3,391.8L186.7,379.7L189,367.6L191.3,355.5L193.6,343.4L196,331.4M158.5,474.3L159.8,481L163.7,490.3L156.2,497.4L150.4,507L152.2,515.9L147.6,521M241.2,566.4L242.9,553.8L244.7,541.2L246.4,528.7L248.2,516.1L249.9,503.5L251.6,490.9L253.4,478.3L255.1,465.7L256.9,453.1L258.6,440.4L260.4,427.8L262.1,415.2L263.8,402.6L265.6,390L267.3,377.3L269.1,364.7M238.2,360.1L243.3,361L248.5,361.7L253.6,362.5L258.8,363.3L263.9,364L269.1,364.7M251.4,277.2L249.7,287.6L248.1,297.9L246.4,308.3L244.8,318.6L243.1,329L241.5,339.4L239.8,349.8L238.2,360.1M251.4,277.2L261.6,278.8L271.8,280.3L282,281.8L292.3,283.2L302.5,284.4L312.7,285.7L323,286.8L333.3,287.9L343.5,288.8L353.8,289.7M269.1,364.7L279.9,366.2L290.8,367.6L301.6,368.9L312.5,370.1L323.4,371.2L334.3,372.3L345.2,373.3L356.1,374.2L367,375L377.9,375.7M360.8,207L359.8,218.7L358.8,230.5L357.8,242.3L356.8,254.1L355.8,266L354.8,277.9L353.8,289.7L352.8,301.7L351.8,313.6L350.8,325.5L349.8,337.5L348.7,349.4L347.7,361.4L346.7,373.4M196.3,182.5L195.6,185.8L194.9,189.2L194.2,192.6L193.5,195.9L192.7,199.3L192,202.7M192,202.7L195.3,209.7L193.7,215.3L199.2,220.1L202.9,227.2L210.1,235L206.9,243.9L203.4,253.8L205.7,257.5L211.1,260.6L218.7,275.9L223.2,284.1L231.6,283.5L243.2,286.5L245.5,281.6L249.7,287.6M355.5,270.2L364.5,270.9L373.6,271.6L382.6,272.2L391.7,272.8L400.7,273.3L409.8,273.7L418.9,274.1L427.9,274.4L437,274.7L446.1,274.9L455.1,275L464.2,275.1M350.3,331.5L360.8,332.4L371.3,333.1L381.8,333.8L392.3,334.5L402.8,335L413.3,335.5L423.9,335.9L434.4,336.2M434.4,336.2L443.4,339.5L454.1,341.8L465.5,347.2M377.9,375.7L377,389.7L376.1,403.7L375.2,417.8L374.3,431.8L373.4,445.8L372.5,459.8M376.5,396.7L387.2,397.4L397.9,397.9L408.6,398.4L419.3,398.8L430,399.2L440.6,399.4L451.3,399.6L462,399.7L472.7,399.8L483.4,399.7M176.1,434.8L186.6,436.8L197.1,438.7L207.7,440.5L218.2,442.3L228.8,444L239.3,445.6L249.9,447.2L260.5,448.6L271.1,450.1L281.7,451.4L292.3,452.7L303,453.8L313.6,455L324.2,456L334.9,457L345.5,457.9L356.2,458.7L366.9,459.5L377.5,460.1L388.2,460.8L398.9,461.3L409.6,461.8L420.3,462.1L431,462.5L441.7,462.7L452.3,462.9L463,463L473.7,463L484.4,463L495.1,462.8M356.9,458.8L356.7,460.5L356.6,462.3L356.5,464L356.3,465.8L356.2,467.5L356.1,469.3M355.4,469.2L363.8,469.8L372.2,470.4L380.6,470.9L389,471.4L397.5,471.8L405.9,472.2M405.9,472.2L405.6,479L405.3,485.8L405,492.6L404.7,499.4L404.4,506.2L404.1,513M355.4,469.2L354.5,481L353.6,492.8L352.7,504.7L351.7,516.5L350.8,528.3L349.9,540L349,551.8L348.1,563.6M348.1,563.6L337.6,562.8L327.2,561.9L316.8,561L306.4,560L296,558.9L285.6,557.8M285.6,557.8L286.7,562.5M404.1,513L410.8,517.7L417.5,521.1L427.8,522.4L436.3,523.7L443.1,528L451.7,531.3L462,529.3L472.3,532.5L480.9,528.3L489.6,532.4L498.4,533.6L506.2,535.3M498.4,533.6L498.5,527.4L498.5,521.2L498.6,515L498.7,508.9L498.8,502.7L498.8,496.5L498.2,492.7L497.6,488.8L497,484.9L496.4,481.1L495.9,477.2L495.3,473.4M506.2,535.3L506.3,540.7L506.4,546.2L506.5,551.6L506.6,557L506.8,562.4L506.9,567.9M506.9,567.9L510.9,576.2L515,584.4L513.6,597L513.5,607.5L511.3,615.9M506.4,546.9L514.8,546.7L523.1,546.4L531.4,546.2L539.7,545.8L548,545.5L556.3,545.1M495.3,473.4L507.7,473.2L520,472.8L532.4,472.4L544.8,471.9L557.2,471.3L569.5,470.6M569.5,470.6L570.9,474.7L566.3,481.3M566.3,481.3L568.2,481.2L570.1,481.1L572,481L573.9,480.8L575.8,480.7L577.7,480.6M495.1,462.8L495,455.5L494.9,448.1L494.8,440.7L494.7,433.3L494.6,426L494.5,418.6M494.5,418.6L489.1,412.3L489.8,403.9L483.4,399.7M483.4,399.7L476,387.6L474.4,378.7L470.8,368.2L468.5,357.7L465.5,347.2M476,387.6L483.9,387.5L491.8,387.3L499.8,387.2L507.7,386.9L515.6,386.7L523.6,386.4L531.5,386L539.4,385.6M539.4,385.6L544.5,390M465.5,347.2L464,338.7L465.6,326.2M465.6,326.2L465.6,319.9L465.6,313.6L465.6,307.3L465.7,301L465.7,294.8L465.7,288.5M465.7,288.5L459.9,282.2L464.2,275.1M464.2,275.1L463.7,267.6L461.2,255.1L460.3,242.6L456.8,232.3L456.3,221.9L455.3,211.6M465.6,326.2L475.4,326.2L485.3,326.1L495.1,326L505,325.8L514.8,325.6L524.7,325.2L534.5,324.8L544.4,324.4M544.4,324.4L542.8,317.1L533.5,310.2L524.3,303.2L519.7,299.2L520,287.7L517.9,280.4L521.7,274.1L526,271.2L525.6,258.3M544.4,324.4L545.5,332.7L547.4,340L554.3,344.9L562,352.8L561.9,359.2L556.8,365.8L549.9,367.2L550.3,374.6L548.9,383.1L544.5,390M554.3,344.9L561.5,344.4L568.7,344L575.9,343.5L583.2,342.9L590.4,342.4L597.6,341.8M544.5,390L544.8,400.1L551.4,410.4L557.1,418.5L566.4,420.5L566,426.4L564.1,435L571.8,440.8L578.7,446.7L579.2,454.1L585.4,458.9M585.4,458.9L583.5,467.5L580.3,469.9L577.7,480.6L574.2,491.4L568.9,502.3L565.9,508.8L559.7,519.6L555.2,532.5L556.3,545.1L558,553.4L561.5,559.5L557,568.2L553,576.8L550.8,587.3M550.8,587.3L556.4,587.1L561.9,586.8L567.5,586.5L573,586.2L578.6,585.8L584.1,585.5M584.1,585.5L583.1,593.9L588.5,602M568.9,502.3L579,501.6L589.2,500.9L599.3,500.1L609.4,499.3L619.5,498.4L629.6,497.5L639.7,496.4L649.7,495.4L659.8,494.2L669.9,493M669.9,493L673.3,492.6L676.7,492.1L680.1,491.7L683.4,491.3L686.8,490.8L690.2,490.4M604.4,499.7L604.5,510.3L604.6,520.8L604.7,531.4L604.8,541.9L604.8,552.4L604.9,563L605.6,569.2L606.3,575.5L607,581.7L607.7,588L608.4,594.2L609.1,600.4M648.3,495.5L650.3,502.8L652.3,510.1L654.4,517.4L656.4,524.7L658.4,532L660.5,539.2M660.5,539.2L665.5,550.7L665.6,565.5L668.1,577.8L671.3,583.6M622,582.5L629.7,581.8L637.4,581.1L645.1,580.3L652.8,579.5L660.5,578.7L668.1,577.8M622,582.5L626.1,588.5L625.1,597M671.3,583.6L679.2,583.1L687.1,582.6L695.1,582.1L703,581.5L710.9,580.9L718.8,580.3M718.8,580.3L722.3,584.2L721.6,576L731.8,575.3M690.2,490.4L695.2,500.3L702.6,509.9L714.3,518.8L724,530.1L730.7,539.7L737.1,546.1M690.2,490.4L703.2,484.3L724.3,482.1L726.6,483.9L729.6,488.3L748.4,485.6L771,501.9M709.2,453.8L702.2,465.3L691,470L682.1,479.5L674.6,487.1L669.9,493M580.3,469.9L584.3,469.6L588.2,469.3L592.2,469L596.1,468.7L600.1,468.4L604,468.1M604,468.1L604,467.5L603.9,467L603.9,466.5L603.8,466L603.8,465.4L603.7,464.9M603.7,464.9L612.8,464.3L621.9,463.5L631,462.8L640,462L649.1,461.1L658.2,460.2L667.2,459.2L676.3,458.2M676.3,458.2L681.8,457.5L687.3,456.8L692.8,456.1L698.2,455.3L703.7,454.6L709.2,453.8M709.3,454.6L721.2,452.8L733.2,450.8L745,448.8L756.9,446.6L768.8,444.4L780.6,442.1L792.4,439.7L804.2,437.2M585.4,458.9L594.2,456.2L601.8,448.1L602,440.7L609.2,438L617.5,439.3L626.8,434.2L634.2,434.5L638.4,427.7L643,417.6L649.3,415.9L651.3,408.2L656.5,408L662.1,413.9L670.4,415.4L681.4,412.4L684.2,415L688.7,418.2M688.7,418.2L694.5,413.1L696.5,404.3L701.3,398.3L704.7,394.5L712.4,386.9L713.3,380.4L713.6,371.8L714.4,366.5M603.1,356.9L603.8,365.3L604.6,373.7L605.3,382.2L606.1,390.6L606.9,399L607.6,407.4M607.6,407.4L608.9,416.8L607.3,425.5L603,432.2L602,440.7M651.3,408.2L650.3,399.1L649.2,390.1L648.1,381L647,371.9L646,362.9L644.9,353.8M608.2,356.4L614.3,355.9L620.4,355.3L626.5,354.6L632.6,354L638.7,353.3L644.8,352.6M644.9,353.8L648.4,353.3L651.9,352.8L655.4,352.2L658.9,351.7L662.4,351.1L665.8,350.6M709.7,338.3L711,346.2L712.3,354.1L713.6,362L714.9,369.9L716.2,377.8L717.5,385.7M717.5,385.7L726.8,384.1L736.1,382.5L745.3,380.8L754.6,379.1L763.8,377.3L773,375.5L782.2,373.6L791.4,371.6M720.3,330.8L720.5,331.7L720.6,332.6L720.8,333.6L721,334.5L721.1,335.4L721.3,336.4M721.3,336.4L729.6,334.9L738,333.4L746.3,331.8L754.7,330.2L763,328.5L771.3,326.8L779.6,325.1L787.9,323.3M787.9,323.3L793.8,328.4L800.7,334.4L796,343.7L798.3,352.2L805.4,358.2L800.6,365.7L796.8,368.7M800.7,334.4L803,335.1L805.3,335.9L807.6,336.6L809.9,337.3L812.2,338L814.6,338.8M796.8,368.7L793.9,368.7L791.4,371.6M791.4,371.6L792.6,375.9L793.8,380.2L795,384.6L796.2,388.9L797.3,393.2L798.5,397.5M798.5,397.5L800.2,397.1L801.9,396.7L803.7,396.4L805.4,396L807.1,395.6L808.8,395.2M801.3,406.6L802.4,406.2L803.4,405.9L804.4,405.6L805.5,405.2L806.5,404.9L807.5,404.6M733.8,382.9L734.1,384.7L734.5,386.5L734.8,388.3L735.1,390.1L735.4,391.9L735.7,393.7M735.7,393.7L742.4,387.2L745.5,382.3L750.6,383.5L753.9,379.7L759,380.8L763,386.1L767.3,389.9L774.2,391.8L776.1,396.8L774.4,404.7L779.3,404.7L791,408.8M763,386.1L762,390.3L755.1,394.4L747.1,401.3L741.5,409.8L735.4,407.7L731.9,421.1L728.5,430.2L719.6,437L707.3,441.1L701.5,434.7L695.4,430L689.3,422.4L688.7,418.2M701.5,434.7L690.6,443.5L685.1,451.7L676.3,458.2M818.4,337.8L818.4,336.8L818.4,335.7L818.4,334.6L818.4,333.5L818.4,332.4L818.4,331.3L817.9,328.8L817.5,326.2L817,323.6L816.5,321L816.1,318.4L815.6,315.8L815.6,313.3L815.5,310.8L815.5,308.2L815.5,305.7L815.4,303.2L815.4,300.7M815.4,300.7L811.5,283.3L807.3,275.7L805.6,265.3L803.1,255.2M815.4,300.7L820.3,299.6L825.2,298.4L830,297.3L834.9,296.1L839.7,294.9L844.6,293.7M844.6,293.7L850.9,289M815.6,315.8L819.8,314.8L824.1,313.9L828.3,312.9L832.5,311.9L836.7,310.9L840.9,309.9L842,309.7L843.1,309.5L844.1,309.4L845.2,309.2L846.3,309L847.4,308.8M841.1,310.5L841.6,312.8L842.1,315.2L842.5,317.5L843,319.8L843.5,322.2L843.9,324.5M847.4,308.8L851.7,314.2L853.9,318M829.5,248.5L829.4,253.9L829.1,261.6L824.8,277.8L825.2,288.5L827.5,298.1M851.2,284.3L845.3,276.8L834.6,240.6M552.6,259.7L560.5,264.8L572.3,268.2L579.7,270.1L587.3,273.3L591.6,281.3L595.8,287.2" fill="none" stroke="#000" stroke-width="1.7" stroke-linejoin="round"/>
<path d="M104.4,160.6L123.5,164.7L138.8,168.8L154.2,172.7L169.6,176.4L185.1,180L200.6,183.4L216.1,186.5L231.7,189.5L247.3,192.3L263,194.9L278.6,197.4L294.3,199.6L310.1,201.7L325.8,203.5L341.6,205.2L357.4,206.7L373.2,207.9L389,209L404.9,210L420.7,210.7L436.5,211.2L452.4,211.5L468.3,211.7L484.1,211.6L484.7,212.7L485,204.8L489,204.8L490.5,215.8L494.4,218L503.8,220.5L513,219.4L518.6,220L522.5,224.4L524.8,226.7L527.2,224.7L533.4,228.3L539.7,229.8L545,226.7L546.7,228.3L555.3,228.3L563,230.3L553.8,235.3L544.4,243L536.5,252.5L528.8,258.8L538,256.4L546,253.3L547.5,258.8L553,259.5L560,255.6L569.4,252.5L575.6,247.8L581.9,241.5L589.2,239.5L583.4,245L581.5,252.5L587.8,250.3L594,253.4L597,258L603.4,257.3L608,259L612.8,254.2L620.6,252.7L630.8,249.5L631.5,255L641.7,254.2L644,259L648,263.6L637.8,263.6L636.3,266.9L633,264.4L626.3,263.4L623.8,265.6L613.8,268.8L612.5,271.3L609.4,274.4L611.3,270L606.9,271L604.4,270L600.6,278L596.3,287.5L594,293L591.9,298L590.5,301L592.8,301L596.2,296L600.2,290L603.6,285L605,283.3L605.7,285L603.2,290L600.8,296L599.2,300L597.4,308L595.6,319L596.4,330L598,339.4L599.5,350L603.3,352.5L608.3,360L617,355L620.8,345L622,336L620.6,327L617.5,319L616,311.3L616.7,303.4L618.3,295.6L620.6,289.4L625.3,284L626,290L629.2,289.4L630,280L634,275.3L634.7,270.6L636,267.5L641,269L648,272L654,277L658,283L661.3,289.4L660.5,297.2L656.6,303.4L654.2,308L656.6,312L659.7,311.3L664.4,303.4L669.8,301.9L673.8,306.6L676.9,317.5L678.4,323.8L677.7,329.2L673.8,331.5L672.2,337.8L669,344L667,350L674.5,353.8L687,355L692,352.5L700,346.3L711,340L720.3,333.8L723.4,330.6L732.8,319L733.6,314.2L730.5,311.9L729.7,308.8L740.6,304L746.9,304L757,301L765,297L768,291.6L768.8,286.9L766.4,285.3L767.2,283L773.4,276L776.6,268L781.3,261L795,257.8L806.3,255.6L820,252L831,249.8L836,247L840,250.5L843.8,210.5L851,190.5L856,194L863.8,189L871,193L882.5,220.5L885,225.5L891,228L895.5,234L888.8,240.5L880,246.8L873.8,250.5L867.5,258L861,264L857.5,273L855,280.5L852.5,284L852.5,288L854.5,293L856,298L853,302L857,303.4L860,307L860,312.8L855.3,316.7L853,312L850.6,314L850.6,322L838,326.9L828.8,330L822.5,334.7L817.8,340L814.7,345.6L814,350L817.8,353.4L818.6,361.3L816.3,370.6L812.3,380L810,384.7L805.3,380L799.8,375.3L797.5,370.6L800.6,380L805.3,387.8L809.2,392.5L810,400L808.8,405L805,412.5L802.5,422.5L801.4,417L800,406.9L796,401L794.3,391.3L793,383.4L794,376L791.4,374.8L786,381.9L784.5,389.7L788,397.5L785,403.5L775,402.5L776.6,405.5L787.5,407.2L793.8,411.6L797,418L800,428.8L803,437.3L803,435L811.7,453L807.8,461L800,468.8L803,473.5L793.8,478L787.5,483L781,496L768.8,503L764,512.5L757.5,523L750,529.5L738.8,537L735,549.5L731,564.5L733,575.8L737.5,587L745,602L753.8,617L760,629.5L766,644.5L771,657L772.5,672L770,684.5L758.8,688L756,684.5L750,677L740,669.5L736,662L730,655.8L722.5,644.5L723.8,637L718.8,634.5L718.8,622L715,614.5L705,607L697.5,598L690,594.5L682,597L674,602L667,606L657,596L649.5,592L632,592L624.5,596L618,597L616,589.5L607,596L594.5,598L584.5,603L586,609.5L592,608L589.5,614.5L594.5,621L592,622L587,617L579.5,623L577,619.5L569.5,624.5L561,623L557,617L547,613L542,616L527,614.5L512,613L506,614.5L492,617L486,624.5L475,630L463.5,637L456,644.5L450,652L446,662L443.5,672L447,684.5L448.5,692L437,690L426,687L416,684.5L410,672L408.5,662L403.5,657L395,642L388.5,629.5L378.5,617L373.5,611L358.5,609.5L351,612L347,621L341,626L323.5,614.5L317,606L315,592L301,578L293.5,568L287,559.5L256.8,558.8L255.5,567.5L241.8,565L208,558.8L145.5,523.8L146.5,519.5L105,512L102.5,502.5L96,492.5L90,482.5L82.5,476L75,470L59,464L60,459L57.5,447.5L54,430L46,414L47.5,405L45,392.5L43,386L40,380L37.5,374L32.5,357.5L34,335L31,327.5L32.5,320L37.5,320L42.5,293L45,275.5L52.5,264L58.8,248L66,232.5L70,220L72,211L72.5,207.5L73.8,200L74.4,194L75,187.5L75.6,181L75.5,171L86,173L95,176L99.3,178L98.3,184L95.3,189L91,193L90.5,196.5L94,197L98,194.5L101,190.5L103.2,185L105.5,181L104.4,179L105,172.5L107,166L105,162.5Z" fill="none" stroke="#000" stroke-width="1.5" stroke-linejoin="round"/>
<path d="M96.5,178L99,181L97,184L99.5,186.5L97,189L98,192L95,194M100.5,183L101.5,187L99.5,190L100,192M93,190.5L95,192.5L93,195L96,196M101,176L102.5,179L101,181M45,383L50,384L54,383.5L58,385L61,386.5M52,386L56,388M790,377L788,380L790.5,382L787.5,385L790,388L787,391L790.5,393.5L789,397L792,399.5L790,402M792.5,379L791,383L793,386L791.5,389L793.5,392L792,395.5L795,398L794,401.5L797.5,404L796,408L799,411M780,403.5L783,405L786,404L789,406M797,440L794,444L798,447L795,451L799,454L796,458L800,461M802,445L806,449L803,453L807,457M790,468L793,471L789,474L792,477M803,436L808,444L811.5,452" fill="none" stroke="#000" stroke-width="1" stroke-linejoin="round"/>
<path d="M10.5,76.5V730" stroke="#b4b4b4" stroke-width="1" fill="none"/><path d="M10.5,76.5H930" stroke="#ececec" stroke-width="1" fill="none"/><path d="M10,729.2H930" stroke="#ff9a9a" stroke-width="1" fill="none"/><path d="M929.3,77V730" stroke="#ffd9c0" stroke-width="1" fill="none"/><path d="M10,730.3H931" stroke="#000" stroke-width="1.3" fill="none"/><path d="M930.5,76.5V731" stroke="#000" stroke-width="1.1" fill="none"/>
<path d="M939.2,104 L949.25,77 L959.3,104Z" fill="#c83c3c"/>
<path d="M939.2,663.2 L949.25,690.4 L959.3,663.2Z" fill="#e6e6e6"/>
<rect x="939.2" y="103.9" width="20.1" height="9.25" fill="#c83c3c"/>
<rect x="939.2" y="112.75" width="20.1" height="15.90" fill="#e66a6a"/>
<rect x="939.2" y="128.25" width="20.1" height="14.90" fill="#f5a0a0"/>
<rect x="939.2" y="142.75" width="20.1" height="15.40" fill="#ffc8c0"/>
<rect x="939.2" y="157.75" width="20.1" height="15.90" fill="#f5dcd7"/>
<rect x="939.2" y="173.25" width="20.1" height="15.40" fill="#e6beb4"/>
<rect x="939.2" y="188.25" width="20.1" height="15.40" fill="#b48c82"/>
<rect x="939.2" y="203.25" width="20.1" height="15.15" fill="#8c645a"/>
<rect x="939.2" y="218" width="20.1" height="8.40" fill="#785046"/>
<rect x="939.2" y="226" width="20.1" height="15.40" fill="#643c32"/>
<rect x="939.2" y="241" width="20.1" height="15.15" fill="#a50000"/>
<rect x="939.2" y="255.75" width="20.1" height="15.40" fill="#c00000"/>
<rect x="939.2" y="270.75" width="20.1" height="15.40" fill="#e11400"/>
<rect x="939.2" y="285.75" width="20.1" height="15.40" fill="#ff3200"/>
<rect x="939.2" y="300.75" width="20.1" height="16.40" fill="#ff6000"/>
<rect x="939.2" y="316.75" width="20.1" height="15.40" fill="#ffa000"/>
<rect x="939.2" y="331.75" width="20.1" height="7.40" fill="#ffc03c"/>
<rect x="939.2" y="338.75" width="20.1" height="15.40" fill="#ffe878"/>
<rect x="939.2" y="353.75" width="20.1" height="30.40" fill="#b4f0d2"/>
<rect x="939.2" y="383.75" width="20.1" height="16.15" fill="#96f58c"/>
<rect x="939.2" y="399.5" width="20.1" height="15.40" fill="#78f573"/>
<rect x="939.2" y="414.5" width="20.1" height="30.90" fill="#3ce03c"/>
<rect x="939.2" y="445" width="20.1" height="22.90" fill="#0fa00f"/>
<rect x="939.2" y="467.5" width="20.1" height="15.90" fill="#f0f0fa"/>
<rect x="939.2" y="483" width="20.1" height="15.40" fill="#b4f5d2"/>
<rect x="939.2" y="498" width="20.1" height="30.40" fill="#8cc8fa"/>
<rect x="939.2" y="528" width="20.1" height="38.15" fill="#3c8ce6"/>
<rect x="939.2" y="565.75" width="20.1" height="15.40" fill="#2068d8"/>
<rect x="939.2" y="580.75" width="20.1" height="15.40" fill="#1460d2"/>
<rect x="939.2" y="595.75" width="20.1" height="15.40" fill="#646464"/>
<rect x="939.2" y="610.75" width="20.1" height="15.40" fill="#969696"/>
<rect x="939.2" y="625.75" width="20.1" height="15.40" fill="#b4b4b4"/>
<rect x="939.2" y="640.75" width="20.1" height="15.40" fill="#d2d2d2"/>
<rect x="939.2" y="655.75" width="20.1" height="7.95" fill="#e6e6e6"/>
<path d="M939.2,104 L949.25,77 L959.3,104 L959.3,663.2 L949.25,690.4 L939.2,663.2Z" fill="none" stroke="#000" stroke-width="1" stroke-linejoin="miter"/>
<path d="M959.3,664.2h4.5" stroke="#000" stroke-width="1"/>
<text x="969.5" y="672.3" font-size="22.2">-30</text>
<path d="M959.3,626.4h4.5" stroke="#000" stroke-width="1"/>
<text x="969.5" y="634.5" font-size="22.2">-20</text>
<path d="M959.3,588.6h4.5" stroke="#000" stroke-width="1"/>
<text x="969.5" y="596.7" font-size="22.2">-10</text>
<path d="M959.3,550.8h4.5" stroke="#000" stroke-width="1"/>
<text x="969.5" y="558.9" font-size="22.2">0</text>
<path d="M959.3,513.0h4.5" stroke="#000" stroke-width="1"/>
<text x="969.5" y="521.1" font-size="22.2">10</text>
<path d="M959.3,475.2h4.5" stroke="#000" stroke-width="1"/>
<text x="969.5" y="483.3" font-size="22.2">20</text>
<path d="M959.3,437.4h4.5" stroke="#000" stroke-width="1"/>
<text x="969.5" y="445.5" font-size="22.2">30</text>
<path d="M959.3,399.6h4.5" stroke="#000" stroke-width="1"/>
<text x="969.5" y="407.7" font-size="22.2">40</text>
<path d="M959.3,361.8h4.5" stroke="#000" stroke-width="1"/>
<text x="969.5" y="369.9" font-size="22.2">50</text>
<path d="M959.3,324.0h4.5" stroke="#000" stroke-width="1"/>
<text x="969.5" y="332.1" font-size="22.2">60</text>
<path d="M959.3,286.2h4.5" stroke="#000" stroke-width="1"/>
<text x="969.5" y="294.3" font-size="22.2">70</text>
<path d="M959.3,248.4h4.5" stroke="#000" stroke-width="1"/>
<text x="969.5" y="256.5" font-size="22.2">80</text>
<path d="M959.3,210.6h4.5" stroke="#000" stroke-width="1"/>
<text x="969.5" y="218.7" font-size="22.2">90</text>
<path d="M959.3,172.8h4.5" stroke="#000" stroke-width="1"/>
<text x="969.5" y="180.9" font-size="22.2">100</text>
<path d="M959.3,135.0h4.5" stroke="#000" stroke-width="1"/>
<text x="969.5" y="143.1" font-size="22.2">110</text>
<path d="M9,8.5L71,8.5L72.5,13L71,16L74,21L80,28L83,34L81,40L75,44L71,46L73,52.5L71,57L68,62L64,58L18,58L16,47.5L12.5,34L9,21L11,14Z" fill="#fff" stroke="#d94a4a" stroke-width="0.9" stroke-linejoin="round"/>
<g stroke="#1f6fd6" fill="#1f6fd6" stroke-linecap="round">
<path d="M32.5,29.5 L62,29.5" stroke-width="2.2" fill="none"/>
<ellipse cx="32.3" cy="29" rx="2.6" ry="3.6" stroke="none"/>
<path d="M31,27 L23,14" stroke-width="1.7" fill="none"/>
<path d="M21.5,16.5 L23.5,12.5 M24.5,18 L26.5,14" stroke-width="1.4" fill="none"/>
<path d="M49.5,17.5 L55,18.5 L60,22 L70,23 L56,24 Z" stroke-width="0.6"/>
<path d="M64,22.5 L64.5,36" stroke-width="1.6" fill="none"/>
<path d="M59,33.5 L68,37.5 M60.5,37 L59.5,33 M66,39 L67.5,35 M66,41 L66,38.5" stroke-width="1.3" fill="none"/>
<circle cx="25.3" cy="27.5" r="1.2" stroke="none"/><circle cx="23.3" cy="31.5" r="1.3" stroke="none"/><circle cx="27" cy="31.7" r="1.3" stroke="none"/>
</g>
<text x="21" y="55.5" font-family="'Liberation Serif','DejaVu Serif',serif" font-style="italic" font-size="24" fill="#cc1414" textLength="35.5" lengthAdjust="spacingAndGlyphs">IEM</text>
<text x="92.5" y="41" font-size="25">Conus 2 meter Air Temperature</text><text x="92.5" y="65.6" font-size="16.67">10 Jul 2020 1:51 AM</text><text x="10.5" y="744.8" font-size="13.89">Iowa Environmental Mesonet :: generated 10 July 2020 01:52 AM</text><text x="1013.5" y="744.8" font-size="13.89" text-anchor="end">data units :: F</text>
<g font-size="19.4" text-anchor="middle" stroke="#fff" stroke-width="3.2" stroke-linejoin="round" paint-order="stroke" fill="#000">
<text x="74" y="179.1">52</text>
<text x="185" y="200.1">57</text>
<text x="103" y="237.1">64</text>
<text x="352" y="230.1">52</text>
<text x="428" y="248.1">59</text>
<text x="561" y="275.1">67</text>
<text x="652" y="280.1">73</text>
<text x="843" y="251.1">66</text>
<text x="757" y="309.1">77</text>
<text x="858" y="309.1">72</text>
<text x="58" y="293.1">68</text>
<text x="234" y="269.1">57</text>
<text x="262" y="331.1">45</text>
<text x="347" y="318.1">70</text>
<text x="480" y="348.1">66</text>
<text x="563" y="359.1">68</text>
<text x="656" y="339.1">69</text>
<text x="798" y="366.1">74</text>
<text x="135" y="379.1">54</text>
<text x="42" y="397.1">54</text>
<text x="270" y="390.1">58</text>
<text x="349" y="393.1">68</text>
<text x="540" y="421.1">72</text>
<text x="624" y="430.1">73</text>
<text x="709" y="438.1">68</text>
<text x="786" y="426.1">75</text>
<text x="200" y="445.1">63</text>
<text x="290" y="452.1">57</text>
<text x="378" y="454.1">74</text>
<text x="455" y="455.1">77</text>
<text x="604" y="501.1">73</text>
<text x="531" y="509.1">73</text>
<text x="736" y="504.1">75</text>
<text x="102" y="487.1">70</text>
<text x="244" y="513.1">70</text>
<text x="416" y="526.1">85</text>
<text x="487" y="577.1">78</text>
<text x="572" y="579.1">79</text>
<text x="669" y="575.1">72</text>
<text x="334" y="602.1">79</text>
<text x="475" y="637.6">81</text>
<text x="576" y="662.6">81</text>
<text x="745" y="648.1">80</text>
<text x="435" y="695.1">82</text>
</g>
</svg>
</body></html>
